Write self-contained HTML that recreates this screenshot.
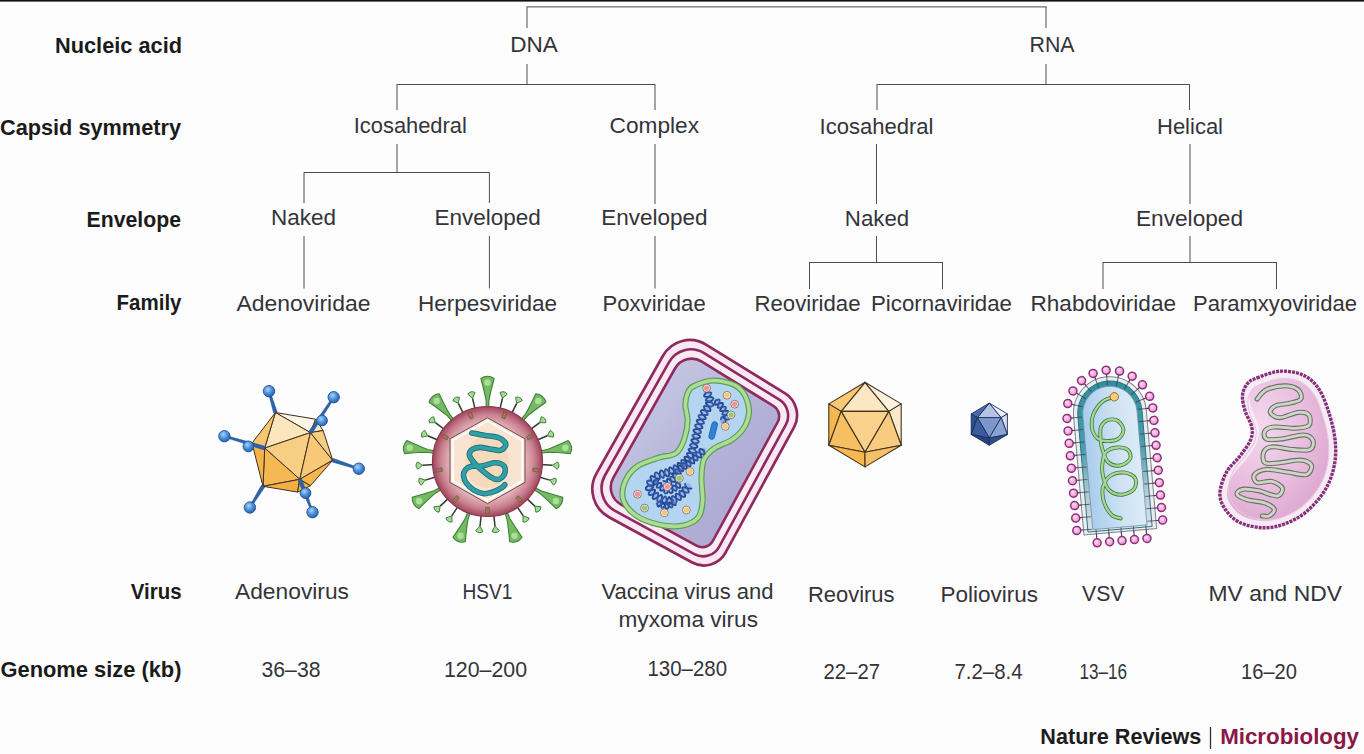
<!DOCTYPE html>
<html><head><meta charset="utf-8"><title>Virus classification</title>
<style>
html,body{margin:0;padding:0;background:#fdfdfe;}
body{width:1364px;height:754px;overflow:hidden;font-family:"Liberation Sans",sans-serif;}
svg{display:block}
text{font-family:"Liberation Sans",sans-serif;}
</style></head><body>
<svg width="1364" height="754" viewBox="0 0 1364 754">
<defs>
<radialGradient id="ball" cx="40%" cy="35%" r="65%"><stop offset="0" stop-color="#a8d4f8"/><stop offset="0.55" stop-color="#4a8fdc"/><stop offset="1" stop-color="#2a62b0"/></radialGradient>
<radialGradient id="hsv" cx="50%" cy="50%" r="50%"><stop offset="0" stop-color="#efd2cf"/><stop offset="0.68" stop-color="#e5b6bb"/><stop offset="0.86" stop-color="#c98090"/><stop offset="1" stop-color="#a0455c"/></radialGradient>
<linearGradient id="vacin" x1="0" y1="0" x2="1" y2="1"><stop offset="0" stop-color="#cdd0e8"/><stop offset="0.5" stop-color="#b6b4d9"/><stop offset="1" stop-color="#a8a3ce"/></linearGradient>
<linearGradient id="vsvin" x1="0" y1="0" x2="1" y2="0"><stop offset="0" stop-color="#a9cdec"/><stop offset="0.6" stop-color="#cfe3f4"/><stop offset="1" stop-color="#dcebf7"/></linearGradient>
<radialGradient id="mv" cx="35%" cy="35%" r="75%"><stop offset="0" stop-color="#f3d8ed"/><stop offset="0.55" stop-color="#e8bcde"/><stop offset="1" stop-color="#d99fcc"/></radialGradient>
<radialGradient id="pinkball" cx="40%" cy="35%" r="65%"><stop offset="0" stop-color="#fbdcf1"/><stop offset="1" stop-color="#ec92ce"/></radialGradient>
<linearGradient id="vsvteal" x1="0" y1="0" x2="0" y2="1"><stop offset="0" stop-color="#2f8f9d"/><stop offset="0.45" stop-color="#4a9fab"/><stop offset="0.75" stop-color="#b4c8d0"/><stop offset="1" stop-color="#dde4ea"/></linearGradient>
</defs>
<rect x="0" y="0" width="1364" height="754" fill="#fdfdfe"/>
<rect x="0" y="0" width="1364" height="1.6" fill="#141012"/>
<line x1="526.5" y1="6.9" x2="1046.5" y2="6.9" stroke="#4c4c52" stroke-width="1.0" />
<line x1="527.0" y1="6.9" x2="527.0" y2="28.0" stroke="#4c4c52" stroke-width="1.0" />
<line x1="1046.0" y1="6.9" x2="1046.0" y2="28.0" stroke="#4c4c52" stroke-width="1.0" />
<line x1="527.0" y1="64.0" x2="527.0" y2="84.0" stroke="#4c4c52" stroke-width="1.0" />
<line x1="397.0" y1="84.5" x2="655.0" y2="84.5" stroke="#4c4c52" stroke-width="1.0" />
<line x1="397.0" y1="84.0" x2="397.0" y2="110.0" stroke="#4c4c52" stroke-width="1.0" />
<line x1="655.0" y1="84.0" x2="655.0" y2="110.0" stroke="#4c4c52" stroke-width="1.0" />
<line x1="397.0" y1="144.0" x2="397.0" y2="172.3" stroke="#4c4c52" stroke-width="1.0" />
<line x1="304.0" y1="172.5" x2="489.4" y2="172.5" stroke="#4c4c52" stroke-width="1.0" />
<line x1="304.0" y1="172.3" x2="304.0" y2="203.0" stroke="#4c4c52" stroke-width="1.0" />
<line x1="489.4" y1="172.3" x2="489.4" y2="203.0" stroke="#4c4c52" stroke-width="1.0" />
<line x1="655.0" y1="144.0" x2="655.0" y2="204.0" stroke="#4c4c52" stroke-width="1.0" />
<line x1="304.0" y1="236.0" x2="304.0" y2="288.5" stroke="#4c4c52" stroke-width="1.0" />
<line x1="489.4" y1="236.0" x2="489.4" y2="288.5" stroke="#4c4c52" stroke-width="1.0" />
<line x1="655.0" y1="236.0" x2="655.0" y2="288.5" stroke="#4c4c52" stroke-width="1.0" />
<line x1="1046.0" y1="64.0" x2="1046.0" y2="84.0" stroke="#4c4c52" stroke-width="1.0" />
<line x1="877.0" y1="84.5" x2="1189.5" y2="84.5" stroke="#4c4c52" stroke-width="1.0" />
<line x1="877.0" y1="84.0" x2="877.0" y2="110.0" stroke="#4c4c52" stroke-width="1.0" />
<line x1="1189.5" y1="84.0" x2="1189.5" y2="110.0" stroke="#4c4c52" stroke-width="1.0" />
<line x1="876.5" y1="144.0" x2="876.5" y2="204.0" stroke="#4c4c52" stroke-width="1.0" />
<line x1="1190.0" y1="144.0" x2="1190.0" y2="204.0" stroke="#4c4c52" stroke-width="1.0" />
<line x1="876.5" y1="236.0" x2="876.5" y2="262.0" stroke="#4c4c52" stroke-width="1.0" />
<line x1="809.5" y1="262.5" x2="942.5" y2="262.5" stroke="#4c4c52" stroke-width="1.0" />
<line x1="809.5" y1="262.0" x2="809.5" y2="289.0" stroke="#4c4c52" stroke-width="1.0" />
<line x1="942.5" y1="262.0" x2="942.5" y2="289.0" stroke="#4c4c52" stroke-width="1.0" />
<line x1="1190.0" y1="236.0" x2="1190.0" y2="262.0" stroke="#4c4c52" stroke-width="1.0" />
<line x1="1103.0" y1="262.5" x2="1276.5" y2="262.5" stroke="#4c4c52" stroke-width="1.0" />
<line x1="1103.0" y1="262.0" x2="1103.0" y2="289.0" stroke="#4c4c52" stroke-width="1.0" />
<line x1="1276.5" y1="262.0" x2="1276.5" y2="289.0" stroke="#4c4c52" stroke-width="1.0" />
<text x="55.0" y="52.7" font-size="22.3" font-weight="bold" fill="#1b1b1b" textLength="127.0" lengthAdjust="spacingAndGlyphs">Nucleic acid</text>
<text x="0.0" y="134.7" font-size="22.3" font-weight="bold" fill="#1b1b1b" textLength="181.0" lengthAdjust="spacingAndGlyphs">Capsid symmetry</text>
<text x="86.5" y="226.8" font-size="22.3" font-weight="bold" fill="#1b1b1b" textLength="94.5" lengthAdjust="spacingAndGlyphs">Envelope</text>
<text x="116.5" y="310.4" font-size="22.3" font-weight="bold" fill="#1b1b1b" textLength="65.0" lengthAdjust="spacingAndGlyphs">Family</text>
<text x="130.8" y="599.4" font-size="22.3" font-weight="bold" fill="#1b1b1b" textLength="50.8" lengthAdjust="spacingAndGlyphs">Virus</text>
<text x="0.5" y="677.0" font-size="22.3" font-weight="bold" fill="#1b1b1b" textLength="181.0" lengthAdjust="spacingAndGlyphs">Genome size (kb)</text>
<text x="510.3" y="52.1" font-size="21.8" font-weight="normal" fill="#343438" textLength="47.5" lengthAdjust="spacingAndGlyphs">DNA</text>
<text x="1029.5" y="51.5" font-size="21.8" font-weight="normal" fill="#343438" textLength="45.0" lengthAdjust="spacingAndGlyphs">RNA</text>
<text x="353.8" y="133.2" font-size="21.8" font-weight="normal" fill="#343438" textLength="113.0" lengthAdjust="spacingAndGlyphs">Icosahedral</text>
<text x="609.5" y="133.2" font-size="21.8" font-weight="normal" fill="#343438" textLength="89.5" lengthAdjust="spacingAndGlyphs">Complex</text>
<text x="819.5" y="134.0" font-size="21.8" font-weight="normal" fill="#343438" textLength="114.0" lengthAdjust="spacingAndGlyphs">Icosahedral</text>
<text x="1157.0" y="134.0" font-size="21.8" font-weight="normal" fill="#343438" textLength="66.0" lengthAdjust="spacingAndGlyphs">Helical</text>
<text x="271.0" y="224.5" font-size="21.8" font-weight="normal" fill="#343438" textLength="65.0" lengthAdjust="spacingAndGlyphs">Naked</text>
<text x="434.4" y="224.5" font-size="21.8" font-weight="normal" fill="#343438" textLength="106.3" lengthAdjust="spacingAndGlyphs">Enveloped</text>
<text x="601.2" y="224.5" font-size="21.8" font-weight="normal" fill="#343438" textLength="106.3" lengthAdjust="spacingAndGlyphs">Enveloped</text>
<text x="844.8" y="226.2" font-size="21.8" font-weight="normal" fill="#343438" textLength="64.4" lengthAdjust="spacingAndGlyphs">Naked</text>
<text x="1136.0" y="226.2" font-size="21.8" font-weight="normal" fill="#343438" textLength="107.0" lengthAdjust="spacingAndGlyphs">Enveloped</text>
<text x="236.5" y="310.5" font-size="21.8" font-weight="normal" fill="#343438" textLength="134.0" lengthAdjust="spacingAndGlyphs">Adenoviridae</text>
<text x="418.0" y="310.5" font-size="21.8" font-weight="normal" fill="#343438" textLength="139.0" lengthAdjust="spacingAndGlyphs">Herpesviridae</text>
<text x="602.5" y="310.5" font-size="21.8" font-weight="normal" fill="#343438" textLength="103.2" lengthAdjust="spacingAndGlyphs">Poxviridae</text>
<text x="754.5" y="310.5" font-size="21.8" font-weight="normal" fill="#343438" textLength="106.0" lengthAdjust="spacingAndGlyphs">Reoviridae</text>
<text x="871.0" y="310.5" font-size="21.8" font-weight="normal" fill="#343438" textLength="141.0" lengthAdjust="spacingAndGlyphs">Picornaviridae</text>
<text x="1030.5" y="310.5" font-size="21.8" font-weight="normal" fill="#343438" textLength="145.5" lengthAdjust="spacingAndGlyphs">Rhabdoviridae</text>
<text x="1193.0" y="310.5" font-size="21.8" font-weight="normal" fill="#343438" textLength="164.0" lengthAdjust="spacingAndGlyphs">Paramxyoviridae</text>
<text x="235.0" y="599.0" font-size="21.8" font-weight="normal" fill="#343438" textLength="114.0" lengthAdjust="spacingAndGlyphs">Adenovirus</text>
<text x="462.5" y="599.0" font-size="21.8" font-weight="normal" fill="#343438" textLength="50.0" lengthAdjust="spacingAndGlyphs">HSV1</text>
<text x="601.5" y="598.5" font-size="21.8" font-weight="normal" fill="#343438" textLength="172.0" lengthAdjust="spacingAndGlyphs">Vaccina virus and</text>
<text x="618.5" y="626.5" font-size="21.8" font-weight="normal" fill="#343438" textLength="139.5" lengthAdjust="spacingAndGlyphs">myxoma virus</text>
<text x="808.0" y="601.5" font-size="21.8" font-weight="normal" fill="#343438" textLength="86.5" lengthAdjust="spacingAndGlyphs">Reovirus</text>
<text x="940.5" y="601.5" font-size="21.8" font-weight="normal" fill="#343438" textLength="97.5" lengthAdjust="spacingAndGlyphs">Poliovirus</text>
<text x="1082.0" y="601.0" font-size="21.8" font-weight="normal" fill="#343438" textLength="42.5" lengthAdjust="spacingAndGlyphs">VSV</text>
<text x="1208.5" y="601.0" font-size="21.8" font-weight="normal" fill="#343438" textLength="133.5" lengthAdjust="spacingAndGlyphs">MV and NDV</text>
<text x="261.5" y="676.5" font-size="21.8" font-weight="normal" fill="#343438" textLength="59.0" lengthAdjust="spacingAndGlyphs">36–38</text>
<text x="444.0" y="676.5" font-size="21.8" font-weight="normal" fill="#343438" textLength="83.0" lengthAdjust="spacingAndGlyphs">120–200</text>
<text x="647.5" y="676.0" font-size="21.8" font-weight="normal" fill="#343438" textLength="79.5" lengthAdjust="spacingAndGlyphs">130–280</text>
<text x="823.5" y="679.0" font-size="21.8" font-weight="normal" fill="#343438" textLength="56.5" lengthAdjust="spacingAndGlyphs">22–27</text>
<text x="954.5" y="679.0" font-size="21.8" font-weight="normal" fill="#343438" textLength="68.0" lengthAdjust="spacingAndGlyphs">7.2–8.4</text>
<text x="1079.5" y="679.0" font-size="21.8" font-weight="normal" fill="#343438" textLength="47.5" lengthAdjust="spacingAndGlyphs">13–16</text>
<text x="1241.0" y="679.0" font-size="21.8" font-weight="normal" fill="#343438" textLength="56.0" lengthAdjust="spacingAndGlyphs">16–20</text>
<text x="1040.3" y="743.6" font-size="21.8" font-weight="bold" fill="#1c1c1c" textLength="161.1" lengthAdjust="spacingAndGlyphs">Nature Reviews</text>
<line x1="1210.5" y1="727.0" x2="1210.5" y2="749.0" stroke="#333" stroke-width="1.3" />
<text x="1220.2" y="743.6" font-size="21.8" font-weight="bold" fill="#8c1746" textLength="138.8" lengthAdjust="spacingAndGlyphs">Microbiology</text>
<g id="adeno">
<polygon points="275.4,412.5 315.7,419.2 310.4,432.6" fill="#fdf5e6" stroke="#3c2f1c" stroke-width="1.0" stroke-linejoin="round"/>
<polygon points="315.7,419.2 323.1,430.5 310.4,432.6" fill="#fbe8c6" stroke="#3c2f1c" stroke-width="1.0" stroke-linejoin="round"/>
<polygon points="275.4,412.5 310.4,432.6 264.7,448.1" fill="#fbe5bd" stroke="#3c2f1c" stroke-width="1.0" stroke-linejoin="round"/>
<polygon points="275.4,412.5 264.7,448.1 252.0,443.2" fill="#f6c670" stroke="#3c2f1c" stroke-width="1.0" stroke-linejoin="round"/>
<polygon points="310.4,432.6 264.7,448.1 299.8,479.3" fill="#f8ce84" stroke="#3c2f1c" stroke-width="1.0" stroke-linejoin="round"/>
<polygon points="310.4,432.6 299.8,479.3 332.7,460.2" fill="#f7c878" stroke="#3c2f1c" stroke-width="1.0" stroke-linejoin="round"/>
<polygon points="323.1,430.5 332.7,460.2 310.4,432.6" fill="#f7cd83" stroke="#3c2f1c" stroke-width="1.0" stroke-linejoin="round"/>
<polygon points="264.7,448.1 299.8,479.3 263.0,486.3" fill="#f5b853" stroke="#3c2f1c" stroke-width="1.0" stroke-linejoin="round"/>
<polygon points="252.0,443.2 264.7,448.1 263.0,486.3" fill="#f4b24a" stroke="#3c2f1c" stroke-width="1.0" stroke-linejoin="round"/>
<polygon points="299.8,479.3 263.0,486.3 297.6,492.1" fill="#f3ae45" stroke="#3c2f1c" stroke-width="1.0" stroke-linejoin="round"/>
<polygon points="299.8,479.3 297.6,492.1 310.4,485.7" fill="#f4b24a" stroke="#3c2f1c" stroke-width="1.0" stroke-linejoin="round"/>
<polygon points="299.8,479.3 310.4,485.7 332.7,460.2" fill="#f5b650" stroke="#3c2f1c" stroke-width="1.0" stroke-linejoin="round"/>
<polygon points="277.2,412.0 269.9,390.9 268.1,391.5 273.6,413.0" fill="#2c63ab" stroke="#234f8c" stroke-width="0.5" />
<circle cx="269.0" cy="391.2" r="5.7" fill="url(#ball)" stroke="#24518f" stroke-width="0.9"/>
<polygon points="312.0,433.6 334.5,397.7 332.9,396.7 308.8,431.6" fill="#2c63ab" stroke="#234f8c" stroke-width="0.5" />
<circle cx="322.0" cy="420.5" r="5.4" fill="url(#ball)" stroke="#24518f" stroke-width="0.9"/>
<circle cx="333.7" cy="397.2" r="5.7" fill="url(#ball)" stroke="#24518f" stroke-width="0.9"/>
<polygon points="265.2,446.3 224.7,435.3 224.1,437.1 264.2,449.9" fill="#2c63ab" stroke="#234f8c" stroke-width="0.5" />
<circle cx="248.4" cy="446.4" r="5.4" fill="url(#ball)" stroke="#24518f" stroke-width="0.9"/>
<circle cx="224.4" cy="436.2" r="5.7" fill="url(#ball)" stroke="#24518f" stroke-width="0.9"/>
<polygon points="332.1,462.0 358.5,469.6 359.1,467.8 333.3,458.4" fill="#2c63ab" stroke="#234f8c" stroke-width="0.5" />
<circle cx="358.8" cy="468.7" r="5.7" fill="url(#ball)" stroke="#24518f" stroke-width="0.9"/>
<polygon points="261.4,485.3 249.1,507.0 250.7,508.0 264.6,487.3" fill="#2c63ab" stroke="#234f8c" stroke-width="0.5" />
<circle cx="249.9" cy="507.5" r="5.7" fill="url(#ball)" stroke="#24518f" stroke-width="0.9"/>
<polygon points="298.0,480.0 311.7,512.5 313.3,511.9 301.6,478.6" fill="#2c63ab" stroke="#234f8c" stroke-width="0.5" />
<circle cx="305.5" cy="493.1" r="5.4" fill="url(#ball)" stroke="#24518f" stroke-width="0.9"/>
<circle cx="312.5" cy="512.2" r="5.7" fill="url(#ball)" stroke="#24518f" stroke-width="0.9"/>
</g>
<g id="hsv1">
<path d="M486.3 408.5 L486.1 400.5 Q484.9 393.5 480.9 378.5 Q487.5 374.0 494.1 378.5 Q490.1 393.5 488.9 400.5 L488.7 408.5 Z" fill="#74bb62" stroke="#3f7f3c" stroke-width="1.1" stroke-linejoin="round"/>
<circle cx="487.5" cy="382.5" r="3.2" fill="#b9e2a4" opacity="0.85"/>
<line x1="499.7" y1="409.9" x2="502.5" y2="398.3" stroke="#2f3f2c" stroke-width="1.5" />
<path d="M502.5 398.3 L500.0 392.5 Q504.4 390.3 507.2 394.2 Z" fill="#a6d994" stroke="#3f7f3c" stroke-width="1" stroke-linejoin="round"/>
<line x1="511.3" y1="414.1" x2="516.7" y2="403.4" stroke="#2f3f2c" stroke-width="1.5" />
<path d="M516.7 403.4 L515.6 397.3 Q520.4 396.1 522.2 400.6 Z" fill="#a6d994" stroke="#3f7f3c" stroke-width="1" stroke-linejoin="round"/>
<path d="M520.6 420.1 L525.6 413.9 Q529.2 407.7 535.8 393.7 Q543.7 394.5 545.9 402.2 Q533.2 411.1 527.8 415.7 L522.5 421.7 Z" fill="#74bb62" stroke="#3f7f3c" stroke-width="1.1" stroke-linejoin="round"/>
<circle cx="538.3" cy="401.0" r="3.2" fill="#b9e2a4" opacity="0.85"/>
<line x1="530.0" y1="429.9" x2="539.6" y2="422.7" stroke="#2f3f2c" stroke-width="1.5" />
<path d="M539.6 422.7 L541.4 416.7 Q546.2 417.8 545.9 422.7 Z" fill="#a6d994" stroke="#3f7f3c" stroke-width="1" stroke-linejoin="round"/>
<line x1="536.2" y1="440.5" x2="547.2" y2="435.8" stroke="#2f3f2c" stroke-width="1.5" />
<path d="M547.2 435.8 L550.3 430.4 Q554.7 432.5 553.2 437.2 Z" fill="#a6d994" stroke="#3f7f3c" stroke-width="1" stroke-linejoin="round"/>
<path d="M539.5 451.1 L547.3 449.5 Q554.0 447.1 568.1 440.6 Q573.7 446.3 570.4 453.6 Q554.9 452.3 547.8 452.3 L539.9 453.5 Z" fill="#74bb62" stroke="#3f7f3c" stroke-width="1.1" stroke-linejoin="round"/>
<circle cx="565.3" cy="447.8" r="3.2" fill="#b9e2a4" opacity="0.85"/>
<line x1="540.4" y1="464.6" x2="552.4" y2="465.3" stroke="#2f3f2c" stroke-width="1.5" />
<path d="M552.4 465.3 L557.6 461.9 Q560.6 465.8 557.2 469.3 Z" fill="#a6d994" stroke="#3f7f3c" stroke-width="1" stroke-linejoin="round"/>
<line x1="538.3" y1="476.7" x2="549.8" y2="480.1" stroke="#2f3f2c" stroke-width="1.5" />
<path d="M549.8 480.1 L555.6 478.0 Q557.6 482.5 553.5 485.1 Z" fill="#a6d994" stroke="#3f7f3c" stroke-width="1" stroke-linejoin="round"/>
<path d="M534.0 487.0 L541.0 490.8 Q547.7 493.2 562.7 497.3 Q563.3 505.2 556.1 508.7 Q545.1 497.8 539.6 493.2 L532.8 489.0 Z" fill="#74bb62" stroke="#3f7f3c" stroke-width="1.1" stroke-linejoin="round"/>
<circle cx="555.9" cy="501.0" r="3.2" fill="#b9e2a4" opacity="0.85"/>
<line x1="526.1" y1="497.9" x2="534.8" y2="506.1" stroke="#2f3f2c" stroke-width="1.5" />
<path d="M534.8 506.1 L541.0 506.8 Q540.7 511.7 535.9 512.2 Z" fill="#a6d994" stroke="#3f7f3c" stroke-width="1" stroke-linejoin="round"/>
<line x1="516.6" y1="505.8" x2="523.2" y2="515.8" stroke="#2f3f2c" stroke-width="1.5" />
<path d="M523.2 515.8 L529.1 518.0 Q527.7 522.7 522.9 522.0 Z" fill="#a6d994" stroke="#3f7f3c" stroke-width="1" stroke-linejoin="round"/>
<path d="M506.8 510.9 L509.7 518.3 Q513.2 524.5 522.1 537.2 Q517.4 543.7 509.7 541.8 Q508.3 526.3 507.0 519.3 L504.5 511.7 Z" fill="#74bb62" stroke="#3f7f3c" stroke-width="1.1" stroke-linejoin="round"/>
<circle cx="514.5" cy="535.7" r="3.2" fill="#b9e2a4" opacity="0.85"/>
<line x1="493.7" y1="514.1" x2="495.0" y2="526.1" stroke="#2f3f2c" stroke-width="1.5" />
<path d="M495.0 526.1 L499.3 530.6 Q496.0 534.2 492.0 531.5 Z" fill="#a6d994" stroke="#3f7f3c" stroke-width="1" stroke-linejoin="round"/>
<line x1="481.3" y1="514.1" x2="480.0" y2="526.1" stroke="#2f3f2c" stroke-width="1.5" />
<path d="M480.0 526.1 L483.0 531.5 Q479.0 534.2 475.7 530.6 Z" fill="#a6d994" stroke="#3f7f3c" stroke-width="1" stroke-linejoin="round"/>
<path d="M470.5 511.7 L468.0 519.3 Q466.7 526.3 465.3 541.8 Q457.6 543.7 452.9 537.2 Q461.8 524.5 465.3 518.3 L468.2 510.9 Z" fill="#74bb62" stroke="#3f7f3c" stroke-width="1.1" stroke-linejoin="round"/>
<circle cx="460.5" cy="535.7" r="3.2" fill="#b9e2a4" opacity="0.85"/>
<line x1="458.4" y1="505.8" x2="451.8" y2="515.8" stroke="#2f3f2c" stroke-width="1.5" />
<path d="M451.8 515.8 L452.1 522.0 Q447.3 522.7 445.9 518.0 Z" fill="#a6d994" stroke="#3f7f3c" stroke-width="1" stroke-linejoin="round"/>
<line x1="448.9" y1="497.9" x2="440.2" y2="506.1" stroke="#2f3f2c" stroke-width="1.5" />
<path d="M440.2 506.1 L439.1 512.2 Q434.3 511.7 434.0 506.8 Z" fill="#a6d994" stroke="#3f7f3c" stroke-width="1" stroke-linejoin="round"/>
<path d="M442.2 489.0 L435.4 493.2 Q429.9 497.8 418.9 508.7 Q411.7 505.2 412.3 497.3 Q427.3 493.2 434.0 490.8 L441.0 487.0 Z" fill="#74bb62" stroke="#3f7f3c" stroke-width="1.1" stroke-linejoin="round"/>
<circle cx="419.1" cy="501.0" r="3.2" fill="#b9e2a4" opacity="0.85"/>
<line x1="436.7" y1="476.7" x2="425.2" y2="480.1" stroke="#2f3f2c" stroke-width="1.5" />
<path d="M425.2 480.1 L421.5 485.1 Q417.4 482.5 419.4 478.0 Z" fill="#a6d994" stroke="#3f7f3c" stroke-width="1" stroke-linejoin="round"/>
<line x1="434.6" y1="464.6" x2="422.6" y2="465.3" stroke="#2f3f2c" stroke-width="1.5" />
<path d="M422.6 465.3 L417.8 469.3 Q414.4 465.8 417.4 461.9 Z" fill="#a6d994" stroke="#3f7f3c" stroke-width="1" stroke-linejoin="round"/>
<path d="M435.1 453.5 L427.2 452.3 Q420.1 452.3 404.6 453.6 Q401.3 446.3 406.9 440.6 Q421.0 447.1 427.7 449.5 L435.5 451.1 Z" fill="#74bb62" stroke="#3f7f3c" stroke-width="1.1" stroke-linejoin="round"/>
<circle cx="409.7" cy="447.8" r="3.2" fill="#b9e2a4" opacity="0.85"/>
<line x1="438.8" y1="440.5" x2="427.8" y2="435.8" stroke="#2f3f2c" stroke-width="1.5" />
<path d="M427.8 435.8 L421.8 437.2 Q420.3 432.5 424.7 430.4 Z" fill="#a6d994" stroke="#3f7f3c" stroke-width="1" stroke-linejoin="round"/>
<line x1="445.0" y1="429.9" x2="435.4" y2="422.7" stroke="#2f3f2c" stroke-width="1.5" />
<path d="M435.4 422.7 L429.1 422.7 Q428.8 417.8 433.6 416.7 Z" fill="#a6d994" stroke="#3f7f3c" stroke-width="1" stroke-linejoin="round"/>
<path d="M452.5 421.7 L447.2 415.7 Q441.8 411.1 429.1 402.2 Q431.3 394.5 439.2 393.7 Q445.8 407.7 449.4 413.9 L454.4 420.1 Z" fill="#74bb62" stroke="#3f7f3c" stroke-width="1.1" stroke-linejoin="round"/>
<circle cx="436.7" cy="401.0" r="3.2" fill="#b9e2a4" opacity="0.85"/>
<line x1="463.7" y1="414.1" x2="458.3" y2="403.4" stroke="#2f3f2c" stroke-width="1.5" />
<path d="M458.3 403.4 L452.8 400.6 Q454.6 396.1 459.4 397.3 Z" fill="#a6d994" stroke="#3f7f3c" stroke-width="1" stroke-linejoin="round"/>
<line x1="475.3" y1="409.9" x2="472.5" y2="398.3" stroke="#2f3f2c" stroke-width="1.5" />
<path d="M472.5 398.3 L467.8 394.2 Q470.6 390.3 475.0 392.5 Z" fill="#a6d994" stroke="#3f7f3c" stroke-width="1" stroke-linejoin="round"/>
<circle cx="487.5" cy="461.5" r="55.0" fill="url(#hsv)" stroke="#8c3550" stroke-width="1.2"/>
<rect x="502.6" y="412.5" width="3.4" height="6" fill="#9c7a58" stroke="#5e4630" stroke-width="0.5" transform="rotate(20.0 504.3 415.5)"/>
<rect x="528.2" y="434.0" width="3.4" height="6" fill="#9c7a58" stroke="#5e4630" stroke-width="0.5" transform="rotate(60.0 529.9 437.0)"/>
<rect x="534.1" y="467.0" width="3.4" height="6" fill="#9c7a58" stroke="#5e4630" stroke-width="0.5" transform="rotate(100.0 535.8 470.0)"/>
<rect x="517.3" y="496.0" width="3.4" height="6" fill="#9c7a58" stroke="#5e4630" stroke-width="0.5" transform="rotate(140.0 519.0 499.0)"/>
<rect x="485.8" y="507.5" width="3.4" height="6" fill="#9c7a58" stroke="#5e4630" stroke-width="0.5" transform="rotate(180.0 487.5 510.5)"/>
<rect x="454.3" y="496.0" width="3.4" height="6" fill="#9c7a58" stroke="#5e4630" stroke-width="0.5" transform="rotate(220.0 456.0 499.0)"/>
<rect x="437.5" y="467.0" width="3.4" height="6" fill="#9c7a58" stroke="#5e4630" stroke-width="0.5" transform="rotate(260.0 439.2 470.0)"/>
<rect x="443.4" y="434.0" width="3.4" height="6" fill="#9c7a58" stroke="#5e4630" stroke-width="0.5" transform="rotate(300.0 445.1 437.0)"/>
<rect x="469.0" y="412.5" width="3.4" height="6" fill="#9c7a58" stroke="#5e4630" stroke-width="0.5" transform="rotate(340.0 470.7 415.5)"/>
<polygon points="487.5,417.8 525.0,438.8 525.0,482.4 487.5,503.6 450.0,482.4 450.0,438.8" fill="#f9e4d2" stroke="#6a4a50" stroke-width="1.0" />
<polygon points="487.5,421.0 522.2,440.4 522.2,480.8 487.5,500.4 452.8,480.8 452.8,440.4" fill="none" stroke="#ffffff" stroke-width="2.0" opacity="0.9"/>
<ellipse cx="487" cy="462" rx="22" ry="26" fill="#f6cfa8" opacity="0.55"/>
<path d="M471.9 433.0 C474.1 433.4 480.6 434.7 484.9 435.4 C489.2 436.1 494.5 436.3 497.8 437.4 C501.1 438.5 503.6 440.4 504.8 441.9 C506.0 443.4 506.0 445.0 505.2 446.4 C504.4 447.8 502.4 450.0 499.8 450.4 C497.2 450.8 493.1 449.4 489.8 448.9 C486.5 448.4 482.8 447.3 479.9 447.4 C477.0 447.5 474.1 448.3 472.4 449.4 C470.6 450.5 469.6 452.2 469.4 453.9 C469.2 455.5 470.1 457.3 471.4 459.3 C472.6 461.3 474.8 463.7 476.9 465.8 C479.0 467.9 481.6 469.9 483.9 471.8 C486.2 473.7 488.6 475.9 490.8 477.2 C493.0 478.5 494.9 479.5 496.8 479.5 C498.7 479.5 500.9 478.5 502.3 477.2 C503.7 475.9 504.9 473.6 505.2 471.8 C505.5 470.0 505.2 467.7 504.3 466.3 C503.4 464.9 501.6 463.9 499.8 463.3 C498.1 462.7 496.0 462.6 493.8 462.8 C491.6 463.1 489.3 464.2 486.8 464.8 C484.3 465.4 481.5 466.1 478.9 466.3 C476.3 466.6 473.6 465.7 471.4 466.3 C469.1 466.9 466.7 468.2 465.4 469.8 C464.1 471.4 463.3 473.5 463.5 475.7 C463.7 477.9 464.7 480.8 466.4 483.2 C468.1 485.6 471.0 488.4 473.9 490.2 C476.8 491.9 480.6 493.4 483.9 493.7 C487.2 493.9 490.8 492.7 493.8 491.7 C496.8 490.7 500.0 488.9 501.8 487.7 C503.6 486.5 504.3 485.2 504.8 484.7" fill="none" stroke="#1f6f80" stroke-width="5.6" stroke-linecap="round" stroke-linejoin="round"/>
<path d="M471.9 433.0 C474.1 433.4 480.6 434.7 484.9 435.4 C489.2 436.1 494.5 436.3 497.8 437.4 C501.1 438.5 503.6 440.4 504.8 441.9 C506.0 443.4 506.0 445.0 505.2 446.4 C504.4 447.8 502.4 450.0 499.8 450.4 C497.2 450.8 493.1 449.4 489.8 448.9 C486.5 448.4 482.8 447.3 479.9 447.4 C477.0 447.5 474.1 448.3 472.4 449.4 C470.6 450.5 469.6 452.2 469.4 453.9 C469.2 455.5 470.1 457.3 471.4 459.3 C472.6 461.3 474.8 463.7 476.9 465.8 C479.0 467.9 481.6 469.9 483.9 471.8 C486.2 473.7 488.6 475.9 490.8 477.2 C493.0 478.5 494.9 479.5 496.8 479.5 C498.7 479.5 500.9 478.5 502.3 477.2 C503.7 475.9 504.9 473.6 505.2 471.8 C505.5 470.0 505.2 467.7 504.3 466.3 C503.4 464.9 501.6 463.9 499.8 463.3 C498.1 462.7 496.0 462.6 493.8 462.8 C491.6 463.1 489.3 464.2 486.8 464.8 C484.3 465.4 481.5 466.1 478.9 466.3 C476.3 466.6 473.6 465.7 471.4 466.3 C469.1 466.9 466.7 468.2 465.4 469.8 C464.1 471.4 463.3 473.5 463.5 475.7 C463.7 477.9 464.7 480.8 466.4 483.2 C468.1 485.6 471.0 488.4 473.9 490.2 C476.8 491.9 480.6 493.4 483.9 493.7 C487.2 493.9 490.8 492.7 493.8 491.7 C496.8 490.7 500.0 488.9 501.8 487.7 C503.6 486.5 504.3 485.2 504.8 484.7" fill="none" stroke="#2fa0a4" stroke-width="3.8" stroke-linecap="round" stroke-linejoin="round"/>
</g>
<g id="vaccinia">
<path d="M662.8 356.0 C671.6 340.3 691.1 335.3 706.4 344.8 L785.1 393.4 C796.4 400.4 800.4 415.5 794.1 427.2 L725.5 552.7 C719.0 564.6 704.1 569.0 692.2 562.5 L609.1 517.2 C593.3 508.6 587.7 488.9 596.5 473.3 Z" fill="#f9e8f3" stroke="#8f2a5e" stroke-width="2.7"/>
<path d="M668.9 362.3 C676.0 349.6 691.8 345.6 704.1 353.2 L779.3 399.7 C787.6 404.8 790.6 416.0 785.9 424.6 L719.1 546.8 C714.3 555.7 703.2 558.9 694.4 554.1 L615.1 510.9 C602.4 504.0 597.8 488.1 604.9 475.5 Z" fill="#faeaf4" stroke="#8f2a5e" stroke-width="2.6"/>
<path d="M675.0 368.5 C680.4 358.9 692.4 355.8 701.8 361.6 L773.5 406.0 C778.8 409.3 780.7 416.5 777.7 422.0 L712.8 541.0 C709.6 546.8 702.3 548.9 696.5 545.7 L621.1 504.6 C611.4 499.3 607.9 487.3 613.4 477.7 Z" fill="url(#vacin)" stroke="#8f2a5e" stroke-width="2.6"/>
<path d="M693.4 386.3 C697.8 384.2 706.7 380.3 714.1 380.5 C721.6 380.7 732.6 383.0 738.3 387.4 C744.1 391.9 747.6 400.7 748.7 407.0 C749.9 413.4 747.9 420.1 745.3 425.5 C742.6 430.8 737.8 435.5 732.6 439.3 C727.4 443.1 718.9 445.1 714.1 448.5 C709.3 452.0 705.9 455.0 703.8 460.0 C701.7 465.0 701.7 471.6 701.5 478.5 C701.3 485.4 703.2 495.0 702.6 501.5 C702.0 508.0 701.5 513.6 698.0 517.6 C694.6 521.7 688.4 524.6 681.9 525.7 C675.4 526.9 666.5 526.3 658.8 524.6 C651.2 522.8 641.7 519.6 635.8 515.3 C629.8 511.1 624.8 505.0 623.1 499.2 C621.4 493.4 622.9 486.3 625.4 480.8 C627.9 475.2 632.5 469.6 638.1 465.8 C643.7 462.0 652.5 459.8 658.8 457.7 C665.2 455.6 671.9 456.2 676.1 453.1 C680.3 450.0 682.3 444.7 684.2 439.3 C686.1 433.9 687.5 426.6 687.6 420.9 C687.8 415.1 685.3 409.3 685.3 404.7 C685.3 400.1 686.3 396.3 687.6 393.2 C689.0 390.1 689.0 388.4 693.4 386.3Z" fill="#b4d5f1" stroke="#58a054" stroke-width="6.0"/>
<path d="M693.4 386.3 C697.8 384.2 706.7 380.3 714.1 380.5 C721.6 380.7 732.6 383.0 738.3 387.4 C744.1 391.9 747.6 400.7 748.7 407.0 C749.9 413.4 747.9 420.1 745.3 425.5 C742.6 430.8 737.8 435.5 732.6 439.3 C727.4 443.1 718.9 445.1 714.1 448.5 C709.3 452.0 705.9 455.0 703.8 460.0 C701.7 465.0 701.7 471.6 701.5 478.5 C701.3 485.4 703.2 495.0 702.6 501.5 C702.0 508.0 701.5 513.6 698.0 517.6 C694.6 521.7 688.4 524.6 681.9 525.7 C675.4 526.9 666.5 526.3 658.8 524.6 C651.2 522.8 641.7 519.6 635.8 515.3 C629.8 511.1 624.8 505.0 623.1 499.2 C621.4 493.4 622.9 486.3 625.4 480.8 C627.9 475.2 632.5 469.6 638.1 465.8 C643.7 462.0 652.5 459.8 658.8 457.7 C665.2 455.6 671.9 456.2 676.1 453.1 C680.3 450.0 682.3 444.7 684.2 439.3 C686.1 433.9 687.5 426.6 687.6 420.9 C687.8 415.1 685.3 409.3 685.3 404.7 C685.3 400.1 686.3 396.3 687.6 393.2 C689.0 390.1 689.0 388.4 693.4 386.3Z" fill="none" stroke="#aedc96" stroke-width="3.6"/>
<path d="M706.7 392.2 L706.9 392.7 L707.1 393.2 L707.4 393.8 L707.7 394.5 L708.0 395.2 L708.3 396.0 L708.7 396.9 L709.0 397.7 L709.3 398.6 L709.6 399.5 L709.7 400.4 L709.9 401.3 L709.9 402.2 L709.8 403.0 L709.6 403.8 L709.4 404.6 L709.0 405.4 L708.6 406.2 L708.1 407.1 L707.6 407.9 L707.0 408.7 L706.4 409.6 L705.8 410.4 L705.2 411.3 L704.6 412.2 L704.1 413.1 L703.6 414.0 L703.1 414.9 L702.7 415.9 L702.3 416.9 L701.9 417.9 L701.5 418.9 L701.1 420.0 L700.7 421.0 L700.3 422.1 L699.9 423.2 L699.5 424.2 L699.2 425.3 L698.8 426.3 L698.5 427.3 L698.2 428.3 L697.9 429.3 L697.6 430.2 L697.4 431.1 L697.1 431.9 L696.9 432.8 L696.8 433.6 L696.6 434.4 L696.4 435.2 L696.3 436.0 L696.1 436.9 L695.9 437.7 L695.7 438.5 L695.5 439.4 L695.3 440.3 L695.0 441.2 L694.7 442.2 L694.5 443.2 L694.2 444.2 L693.9 445.3 L693.6 446.3 L693.3 447.4 L693.0 448.5 L692.7 449.6 L692.3 450.7 L691.9 451.7 L691.5 452.7 L691.1 453.7 L690.7 454.6 L690.2 455.5 L689.8 456.4 L689.2 457.2 L688.7 457.9 L688.2 458.7 L687.6 459.4 L687.0 460.1 L686.4 460.8 L685.8 461.4 L685.1 462.1 L684.5 462.7 L683.8 463.3 L683.1 463.9 L682.4 464.5 L681.6 465.1 L680.9 465.6 L680.1 466.2 L679.3 466.7 L678.5 467.2 L677.7 467.8 L676.8 468.2 L676.0 468.7 L675.1 469.2 L674.2 469.6 L673.3 470.1 L672.4 470.5 L671.5 470.9 L670.6 471.3 L669.7 471.8 L668.8 472.1 L667.8 472.5 L666.9 472.8 L665.9 473.1 L664.9 473.4 L663.8 473.7 L662.8 473.9 L661.8 474.2 L660.9 474.5 L659.9 474.8 L659.0 475.2 L658.1 475.6 L657.3 476.0 L656.6 476.5 L655.8 477.1 L655.1 477.7 L654.4 478.3 L653.7 479.0 L653.0 479.7 L652.3 480.5 L651.7 481.2 L651.2 482.0 L650.7 482.8 L650.2 483.5 L649.9 484.3 L649.6 485.1 L649.5 485.8 L649.4 486.6 L649.5 487.3 L649.6 488.1 L649.9 488.8 L650.2 489.6 L650.7 490.4 L651.2 491.2 L651.7 491.9 L652.3 492.7 L653.0 493.4 L653.7 494.1 L654.4 494.8 L655.1 495.5 L655.8 496.1 L656.6 496.6 L657.3 497.1 L658.1 497.6 L659.0 498.1 L659.9 498.6 L660.9 499.0 L661.8 499.4 L662.8 499.8 L663.8 500.1 L664.9 500.4 L665.9 500.6 L666.9 500.8 L667.8 500.9 L668.8 500.9 L669.7 500.9 L670.6 500.8 L671.5 500.5 L672.4 500.2 L673.4 499.8 L674.3 499.4 L675.2 498.9 L676.1 498.3 L677.0 497.8 L677.8 497.2 L678.6 496.5 L679.5 495.9 L680.2 495.3 L681.0 494.8 L681.6 494.2 L682.3 493.7 L682.9 493.1 L683.5 492.4 L684.1 491.8 L684.7 491.1 L685.2 490.4 L685.7 489.7 L686.2 489.1 L686.6 488.4 L687.1 487.9 L687.4 487.3 L687.8 486.8 L688.1 486.4 L688.3 486.1" fill="none" stroke="#7fa3d8" stroke-width="6.0" stroke-linecap="round" opacity="0.55"/>
<path d="M706.7 392.2 L705.8 393.1 L704.9 394.1 L704.2 395.2 L704.0 396.1 L704.7 396.7 L706.4 396.8 L708.8 396.8 L711.1 397.0 L712.9 397.5 L713.4 398.6 L712.6 399.9 L710.8 401.2 L708.7 402.1 L706.9 402.5 L705.9 402.7 L705.8 403.2 L706.7 404.3 L708.2 406.0 L709.7 408.0 L710.6 409.9 L710.3 411.0 L708.7 411.1 L706.1 410.7 L703.4 410.1 L701.5 410.2 L700.8 411.2 L701.6 413.0 L703.3 415.0 L705.1 416.9 L705.9 418.4 L705.1 419.2 L702.8 419.4 L699.8 419.5 L697.4 419.8 L696.6 420.8 L697.5 422.3 L699.7 424.3 L701.7 426.1 L702.6 427.5 L701.8 428.4 L699.7 428.8 L697.0 429.0 L694.8 429.4 L693.5 430.1 L693.6 431.0 L694.6 432.2 L696.4 433.5 L698.2 434.8 L699.6 435.9 L700.1 436.8 L699.7 437.6 L698.2 438.2 L696.0 438.6 L693.7 438.9 L691.9 439.4 L691.2 440.1 L691.8 441.3 L693.7 442.9 L695.9 444.7 L697.4 446.2 L697.3 447.4 L695.4 448.0 L692.4 448.3 L689.8 448.7 L688.5 449.4 L689.0 450.6 L690.8 452.4 L692.8 454.4 L693.9 456.2 L693.7 457.4 L692.2 457.8 L689.9 457.6 L687.4 457.0 L685.5 456.7 L684.5 456.9 L684.5 457.9 L685.2 459.6 L686.1 461.8 L686.9 463.9 L687.0 465.5 L686.3 466.2 L684.8 465.9 L682.7 464.9 L680.6 463.7 L678.8 462.9 L677.8 462.9 L677.6 464.1 L677.9 466.3 L678.3 468.8 L678.4 471.1 L677.9 472.2 L676.6 472.1 L674.8 470.8 L672.8 469.0 L671.0 467.6 L669.8 467.3 L669.2 468.3 L669.1 470.5 L669.2 473.1 L668.9 475.5 L668.0 476.6 L666.8 476.2 L665.1 474.5 L663.5 472.2 L661.9 470.6 L660.7 470.4 L660.0 471.7 L659.7 474.1 L659.7 476.7 L659.7 478.7 L659.4 479.5 L658.5 479.2 L656.8 478.3 L654.6 477.1 L652.4 476.2 L650.9 476.2 L650.4 477.3 L651.0 479.3 L652.2 481.6 L653.4 483.5 L654.0 484.8 L653.6 485.3 L652.4 485.3 L650.5 485.3 L648.4 485.7 L646.8 486.6 L645.8 487.8 L645.8 489.1 L646.8 490.0 L648.7 490.3 L651.1 490.1 L653.3 489.7 L654.8 489.6 L655.2 490.3 L654.6 491.9 L653.6 494.2 L652.8 496.6 L652.7 498.4 L653.5 499.1 L655.0 498.8 L657.0 497.6 L659.0 496.1 L660.7 495.0 L661.7 495.0 L662.0 496.5 L662.0 499.0 L662.1 501.8 L662.7 503.7 L663.9 504.1 L665.4 502.9 L666.9 500.7 L668.0 498.5 L668.8 497.1 L669.3 497.0 L670.1 498.1 L671.3 499.9 L673.1 501.9 L674.8 503.0 L676.1 502.9 L676.6 501.3 L676.3 498.7 L675.8 496.0 L675.6 494.1 L676.4 493.5 L678.0 494.0 L680.1 495.2 L682.3 496.4 L683.9 497.0 L685.0 496.6 L685.2 495.4 L684.7 493.5 L683.6 491.3 L682.6 489.4 L682.2 488.1 L682.6 487.4 L683.8 487.3 L685.5 487.6 L687.3 488.1 L689.0 488.4 L690.3 488.6 L691.0 488.6 L691.5 488.5" fill="none" stroke="#27468f" stroke-width="1.8" stroke-linejoin="round" stroke-linecap="round"/>
<path d="M706.7 392.2 L707.9 392.3 L709.3 392.3 L710.5 392.4 L711.3 392.8 L711.2 393.8 L710.3 395.2 L708.6 396.9 L706.9 398.5 L705.8 399.7 L705.8 400.4 L706.9 400.9 L708.9 401.4 L711.1 402.2 L712.7 403.4 L713.4 404.8 L712.9 406.0 L711.3 406.5 L709.0 406.5 L706.5 406.1 L704.6 405.9 L703.7 406.5 L704.2 408.0 L705.5 410.2 L707.0 412.5 L707.8 414.2 L707.4 415.0 L705.6 415.0 L702.9 414.8 L700.3 414.8 L698.7 415.3 L698.6 416.6 L700.1 418.4 L702.3 420.4 L703.9 422.2 L704.0 423.4 L702.2 424.0 L699.4 424.2 L696.6 424.4 L695.1 425.1 L695.2 426.2 L696.7 427.8 L698.7 429.5 L700.4 431.0 L701.2 432.1 L700.7 432.8 L699.2 433.3 L697.1 433.7 L695.0 434.1 L693.2 434.6 L692.4 435.2 L692.5 436.1 L693.6 437.2 L695.4 438.5 L697.3 439.8 L698.6 441.2 L698.8 442.3 L697.6 443.0 L695.2 443.4 L692.4 443.7 L690.4 444.3 L689.9 445.3 L691.2 446.8 L693.5 448.7 L695.5 450.5 L696.1 451.9 L694.8 452.8 L692.3 453.0 L689.5 453.0 L687.5 453.0 L686.8 453.6 L687.3 454.9 L688.6 456.7 L690.0 458.8 L690.8 460.7 L690.7 461.9 L689.5 462.3 L687.6 461.9 L685.4 461.1 L683.3 460.2 L681.9 459.9 L681.2 460.4 L681.4 461.9 L682.0 464.1 L682.7 466.4 L682.9 468.4 L682.4 469.5 L681.0 469.4 L679.1 468.2 L677.0 466.7 L675.2 465.4 L674.1 465.2 L673.6 466.3 L673.6 468.5 L673.8 471.1 L673.8 473.4 L673.2 474.6 L672.0 474.4 L670.3 473.0 L668.4 471.2 L666.8 469.5 L665.7 469.0 L665.0 470.0 L664.6 472.3 L664.2 475.1 L663.8 477.3 L663.0 478.0 L661.8 477.3 L660.2 475.5 L658.4 473.7 L656.6 472.5 L655.3 472.6 L654.7 473.9 L654.9 475.9 L655.6 478.3 L656.4 480.5 L656.5 481.8 L655.6 482.1 L653.7 481.6 L651.3 480.9 L648.9 480.5 L647.3 480.8 L646.8 481.8 L647.4 483.3 L648.8 484.9 L650.5 486.0 L652.1 486.6 L653.1 486.8 L653.5 487.0 L652.9 487.6 L651.7 488.9 L650.2 490.7 L649.0 492.6 L648.6 494.3 L649.5 495.1 L651.3 495.0 L653.7 494.1 L656.0 493.1 L657.6 492.6 L658.2 493.0 L658.1 494.4 L657.7 496.6 L657.3 499.1 L657.3 501.2 L658.2 502.1 L659.7 501.5 L661.7 499.8 L663.5 497.8 L664.9 496.5 L665.8 496.7 L666.3 498.4 L666.8 500.9 L667.7 503.3 L668.8 504.7 L670.1 504.7 L671.1 503.4 L671.7 501.1 L671.8 498.6 L671.9 496.6 L672.4 495.9 L673.8 496.5 L675.9 498.0 L678.1 499.5 L680.0 500.2 L680.9 499.6 L680.9 497.8 L680.3 495.4 L679.6 493.1 L679.4 491.4 L679.6 490.7 L680.6 490.8 L682.4 491.4 L684.6 492.2 L686.7 492.7 L688.2 492.7 L688.9 492.1 L688.6 490.8 L687.8 489.3 L686.8 487.7 L685.9 486.2 L685.3 485.1 L685.1 484.2 L685.2 483.6" fill="none" stroke="#2f55a6" stroke-width="1.8" stroke-linejoin="round" stroke-linecap="round"/>
<path d="M715.6 400.6 L715.8 400.9 L716.2 401.2 L716.6 401.6 L717.0 402.1 L717.5 402.5 L718.1 403.1 L718.6 403.6 L719.2 404.2 L719.8 404.8 L720.3 405.4 L720.8 406.0 L721.4 406.6 L721.8 407.2 L722.2 407.8 L722.6 408.4 L723.1 409.0 L723.5 409.7 L723.9 410.4 L724.3 411.1 L724.7 411.8 L725.1 412.5 L725.4 413.2 L725.7 413.9 L726.0 414.6 L726.2 415.2 L726.4 415.8 L726.5 416.3 L726.5 416.8 L726.5 417.3 L726.3 417.7 L726.1 418.1 L725.8 418.5 L725.5 418.8 L725.1 419.1 L724.7 419.4 L724.2 419.7 L723.8 420.0 L723.4 420.2 L723.0 420.4 L722.7 420.6 L722.4 420.7 L722.2 420.9" fill="none" stroke="#7fa3d8" stroke-width="5.1" stroke-linecap="round" opacity="0.55"/>
<path d="M715.6 400.6 L715.2 401.5 L714.8 402.6 L714.6 403.7 L714.7 404.5 L715.3 404.8 L716.6 404.6 L718.3 403.9 L720.2 403.2 L721.8 402.8 L722.8 403.1 L723.0 404.1 L722.5 405.6 L721.6 407.3 L720.7 408.8 L720.1 410.0 L720.2 410.8 L721.1 411.2 L722.7 411.1 L724.7 410.8 L726.7 410.7 L728.0 411.0 L728.4 411.8 L727.9 412.9 L726.9 414.2 L725.6 415.4 L724.5 416.2 L723.6 416.7 L723.2 416.8 L723.2 416.5 L723.5 416.4 L724.0 416.7 L724.6 417.4 L725.1 418.4 L725.5 419.7 L725.6 420.9 L725.6 422.0 L725.4 422.7 L725.1 423.1 L724.6 423.2 L724.2 423.0 L723.8 422.7 L723.5 422.4" fill="none" stroke="#27468f" stroke-width="1.8" stroke-linejoin="round" stroke-linecap="round"/>
<path d="M715.6 400.6 L716.5 400.2 L717.6 399.8 L718.6 399.5 L719.4 399.6 L719.7 400.3 L719.6 401.5 L719.0 403.3 L718.2 405.2 L717.7 406.7 L717.8 407.6 L718.7 407.9 L720.2 407.5 L722.0 407.0 L723.7 406.7 L725.1 406.7 L725.9 407.2 L725.9 408.2 L725.1 409.7 L723.9 411.3 L722.7 412.8 L722.2 414.0 L722.5 414.6 L723.5 414.8 L725.1 414.9 L726.8 415.0 L728.3 415.3 L729.4 416.0 L729.9 416.9 L729.8 418.0 L729.2 419.0 L728.2 419.5 L727.0 419.6 L725.8 419.2 L724.7 418.6 L723.7 418.0 L722.8 417.4 L722.2 417.2 L721.7 417.2 L721.4 417.5 L721.2 418.1 L721.1 418.8 L721.0 419.4" fill="none" stroke="#2f55a6" stroke-width="1.8" stroke-linejoin="round" stroke-linecap="round"/>
<path d="M703.6 450.3 L703.1 450.8 L702.4 451.4 L701.5 452.1 L700.6 452.9 L699.6 453.8 L698.6 454.8 L697.4 455.8 L696.3 456.8 L695.2 457.8 L694.0 458.8 L692.9 459.8 L691.9 460.6 L690.9 461.5 L690.0 462.2 L689.2 462.9 L688.3 463.5 L687.5 464.0 L686.7 464.5 L686.0 465.0 L685.2 465.5 L684.5 465.9 L683.7 466.4 L683.0 466.8 L682.3 467.3 L681.7 467.7 L681.0 468.2 L680.4 468.8 L679.7 469.4 L679.1 470.0 L678.5 470.7 L678.0 471.4 L677.5 472.2 L677.0 473.0 L676.5 473.7 L676.0 474.5 L675.5 475.3 L675.0 476.1 L674.6 476.8 L674.1 477.5 L673.6 478.2 L673.1 478.8 L672.6 479.4 L672.0 479.9 L671.4 480.4 L670.8 480.9 L670.2 481.3 L669.6 481.7 L668.9 482.1 L668.3 482.4 L667.7 482.7 L667.1 483.0 L666.6 483.3 L666.1 483.6 L665.6 483.8 L665.2 484.0 L664.9 484.2" fill="none" stroke="#7fa3d8" stroke-width="5.4" stroke-linecap="round" opacity="0.55"/>
<path d="M703.6 450.3 L701.9 449.4 L700.1 448.9 L699.3 449.6 L699.8 452.1 L701.0 455.4 L701.0 457.5 L698.6 457.1 L695.1 455.4 L692.8 455.1 L693.0 457.6 L694.2 461.2 L694.2 463.4 L692.4 463.3 L689.8 462.0 L687.6 460.8 L686.3 460.5 L685.9 461.6 L686.2 463.7 L686.6 466.1 L686.8 468.0 L686.3 469.0 L685.3 468.9 L683.8 467.9 L681.9 466.7 L680.2 465.7 L678.8 465.5 L678.1 466.3 L678.3 467.9 L679.2 470.1 L680.3 472.1 L680.8 473.5 L680.3 474.1 L678.6 474.0 L676.2 473.6 L673.9 473.3 L672.5 473.5 L672.3 474.4 L673.1 475.9 L674.3 477.7 L675.3 479.6 L675.6 481.0 L675.1 481.9 L673.8 482.0 L672.2 481.3 L670.4 480.3 L668.9 479.3 L667.8 478.8 L667.2 479.0 L667.0 480.0 L667.1 481.5 L667.2 483.2 L667.3 484.8 L667.3 486.0 L667.2 486.8 L667.0 487.1 L666.7 487.2" fill="none" stroke="#27468f" stroke-width="1.8" stroke-linejoin="round" stroke-linecap="round"/>
<path d="M703.6 450.3 L704.2 452.1 L704.6 453.9 L703.8 454.6 L701.4 453.8 L698.3 452.3 L696.2 452.1 L696.3 454.5 L697.6 458.2 L697.5 460.5 L695.1 460.0 L691.7 458.3 L689.6 457.9 L689.4 459.6 L690.2 462.4 L690.7 465.0 L690.4 466.4 L689.1 466.4 L687.2 465.3 L685.3 463.9 L683.6 462.9 L682.6 462.8 L682.2 463.8 L682.3 465.7 L682.7 467.8 L683.2 469.8 L683.2 471.0 L682.6 471.3 L681.1 470.8 L679.1 470.0 L676.8 469.3 L675.2 469.4 L674.7 470.3 L675.3 471.9 L676.7 473.9 L678.0 475.8 L678.5 477.2 L677.8 477.8 L676.1 477.8 L673.8 477.4 L671.8 476.9 L670.5 476.6 L670.1 476.9 L670.2 477.9 L670.7 479.5 L671.2 481.4 L671.5 483.3 L671.3 484.6 L670.7 485.1 L669.6 484.8 L668.3 484.0 L667.0 482.8 L665.8 481.8 L664.8 481.1 L664.1 480.8 L663.5 480.9 L663.2 481.1" fill="none" stroke="#2f55a6" stroke-width="1.8" stroke-linejoin="round" stroke-linecap="round"/>
<path d="M654.2 480.6 L654.7 481.1 L655.4 481.7 L656.1 482.4 L657.0 483.3 L657.9 484.2 L658.9 485.2 L660.0 486.1 L661.0 487.1 L662.1 488.0 L663.2 488.9 L664.3 489.6 L665.4 490.2 L666.4 490.6 L667.3 490.9 L668.3 490.9 L669.2 490.7 L670.2 490.4 L671.3 490.0 L672.3 489.5 L673.3 488.8 L674.3 488.2 L675.3 487.5 L676.2 486.8 L677.1 486.1 L677.9 485.5 L678.6 484.9 L679.2 484.5 L679.7 484.2" fill="none" stroke="#7fa3d8" stroke-width="4.8" stroke-linecap="round" opacity="0.55"/>
<path d="M654.2 480.6 L653.7 482.2 L653.4 483.8 L654.0 484.6 L656.1 484.2 L659.0 483.1 L661.1 482.9 L661.3 484.7 L660.4 487.9 L660.2 490.4 L661.8 490.8 L664.4 489.5 L666.5 488.0 L667.4 487.6 L667.6 488.6 L668.2 490.4 L669.6 492.4 L671.3 493.3 L672.5 492.5 L672.7 490.2 L672.4 487.4 L672.5 485.6 L673.9 485.5 L676.1 486.6 L678.4 487.7 L679.8 488.0 L680.3 487.2 L680.2 486.0 L680.0 484.7" fill="none" stroke="#27468f" stroke-width="1.8" stroke-linejoin="round" stroke-linecap="round"/>
<path d="M654.2 480.6 L655.7 479.9 L657.4 479.6 L658.3 480.2 L657.9 482.3 L656.9 485.3 L656.7 487.5 L658.6 487.6 L661.7 486.3 L664.1 485.6 L664.6 486.9 L664.2 489.7 L664.2 492.4 L665.3 493.6 L667.0 493.1 L668.3 491.4 L668.9 489.1 L669.2 487.5 L670.1 487.5 L671.9 488.7 L674.3 490.3 L676.1 490.8 L676.8 489.5 L676.4 486.9 L675.9 484.5 L676.0 483.0 L676.9 482.6 L678.2 483.0 L679.4 483.7" fill="none" stroke="#2f55a6" stroke-width="1.8" stroke-linejoin="round" stroke-linecap="round"/>
<path d="M657.3 503.3 L657.7 503.4 L658.2 503.6 L658.8 503.8 L659.5 504.1 L660.2 504.4 L661.0 504.7 L661.9 505.0 L662.7 505.2 L663.5 505.5 L664.4 505.7 L665.2 505.9 L665.9 506.1 L666.7 506.1 L667.3 506.1 L667.9 506.1 L668.5 505.9 L669.2 505.7 L669.8 505.4 L670.4 505.1 L671.0 504.8 L671.5 504.4 L672.1 504.0 L672.6 503.7 L673.0 503.3 L673.5 503.0 L673.9 502.7 L674.2 502.5 L674.5 502.3" fill="none" stroke="#7fa3d8" stroke-width="4.2" stroke-linecap="round" opacity="0.55"/>
<path d="M657.3 503.3 L657.4 504.3 L657.5 505.4 L657.9 506.3 L658.5 506.6 L659.6 506.0 L661.0 504.7 L662.4 503.3 L663.5 502.6 L664.2 503.1 L664.6 504.7 L665.0 506.6 L665.6 508.2 L666.5 508.9 L667.5 508.7 L668.3 507.9 L668.7 506.5 L668.8 504.9 L668.9 503.6 L669.0 502.7 L669.6 502.5 L670.5 502.9 L671.7 503.6 L673.0 504.3 L674.2 504.9 L675.0 505.1 L675.5 505.0 L675.7 504.7 L675.7 504.4" fill="none" stroke="#27468f" stroke-width="1.8" stroke-linejoin="round" stroke-linecap="round"/>
<path d="M657.3 503.3 L658.0 502.5 L658.9 501.8 L659.8 501.3 L660.5 501.6 L660.9 502.8 L661.0 504.6 L661.3 506.6 L661.8 507.8 L662.8 507.9 L664.1 506.8 L665.3 505.2 L666.3 503.9 L666.8 503.4 L667.2 503.6 L667.6 504.3 L668.4 505.4 L669.5 506.5 L670.7 507.3 L671.7 507.5 L672.3 507.0 L672.5 506.0 L672.4 504.5 L672.1 503.1 L671.9 501.8 L671.9 500.9 L672.2 500.5 L672.7 500.3 L673.3 500.3" fill="none" stroke="#2f55a6" stroke-width="1.8" stroke-linejoin="round" stroke-linecap="round"/>
<rect x="710.4" y="421.5" width="5.6" height="18" rx="2.8" fill="#2f82da" stroke="#1f5ca8" stroke-width="0.8" transform="rotate(14 713.2 430.4)"/>
<circle cx="706.7" cy="388.2" r="3.9" fill="#fdf2e4" stroke="#7d6258" stroke-width="0.8"/>
<circle cx="706.7" cy="388.2" r="2.7" fill="#f28fa0"/>
<circle cx="727.0" cy="395.3" r="3.9" fill="#fdf2e4" stroke="#7d6258" stroke-width="0.8"/>
<circle cx="727.0" cy="395.3" r="2.7" fill="#f7c878"/>
<circle cx="734.7" cy="404.2" r="3.9" fill="#fdf2e4" stroke="#7d6258" stroke-width="0.8"/>
<circle cx="734.7" cy="404.2" r="2.7" fill="#f28fa0"/>
<circle cx="731.1" cy="414.9" r="3.9" fill="#fdf2e4" stroke="#7d6258" stroke-width="0.8"/>
<circle cx="731.1" cy="414.9" r="2.7" fill="#8ccc7c"/>
<circle cx="725.3" cy="426.4" r="3.9" fill="#fdf2e4" stroke="#7d6258" stroke-width="0.8"/>
<circle cx="725.3" cy="426.4" r="2.7" fill="#f7c878"/>
<circle cx="690.0" cy="471.5" r="3.9" fill="#fdf2e4" stroke="#7d6258" stroke-width="0.8"/>
<circle cx="690.0" cy="471.5" r="2.7" fill="#f7c878"/>
<circle cx="679.3" cy="478.2" r="3.9" fill="#fdf2e4" stroke="#7d6258" stroke-width="0.8"/>
<circle cx="679.3" cy="478.2" r="2.7" fill="#8ccc7c"/>
<circle cx="667.3" cy="486.6" r="3.9" fill="#fdf2e4" stroke="#7d6258" stroke-width="0.8"/>
<circle cx="667.3" cy="486.6" r="2.7" fill="#f28fa0"/>
<circle cx="637.5" cy="494.2" r="3.9" fill="#fdf2e4" stroke="#7d6258" stroke-width="0.8"/>
<circle cx="637.5" cy="494.2" r="2.7" fill="#f28fa0"/>
<circle cx="644.6" cy="508.1" r="3.9" fill="#fdf2e4" stroke="#7d6258" stroke-width="0.8"/>
<circle cx="644.6" cy="508.1" r="2.7" fill="#8ccc7c"/>
<circle cx="664.4" cy="512.8" r="3.9" fill="#fdf2e4" stroke="#7d6258" stroke-width="0.8"/>
<circle cx="664.4" cy="512.8" r="2.7" fill="#f7c878"/>
<circle cx="686.4" cy="510.0" r="3.9" fill="#fdf2e4" stroke="#7d6258" stroke-width="0.8"/>
<circle cx="686.4" cy="510.0" r="2.7" fill="#f7c878"/>
</g>
<g id="reo">
<polygon points="865.0,382.3 841.1,411.4 888.9,411.4" fill="#fbe7c4" stroke="#43341f" stroke-width="1.1" stroke-linejoin="round"/>
<polygon points="841.1,411.4 888.9,411.4 865.0,452.2" fill="#f9d18a" stroke="#43341f" stroke-width="1.1" stroke-linejoin="round"/>
<polygon points="865.0,382.3 828.8,403.9 841.1,411.4" fill="#f8c972" stroke="#43341f" stroke-width="1.1" stroke-linejoin="round"/>
<polygon points="828.8,403.9 828.8,445.3 841.1,411.4" fill="#f5b850" stroke="#43341f" stroke-width="1.1" stroke-linejoin="round"/>
<polygon points="841.1,411.4 828.8,445.3 865.0,452.2" fill="#f6c062" stroke="#43341f" stroke-width="1.1" stroke-linejoin="round"/>
<polygon points="865.0,382.3 901.2,403.9 888.9,411.4" fill="#fdf1df" stroke="#43341f" stroke-width="1.1" stroke-linejoin="round"/>
<polygon points="901.2,403.9 901.2,445.3 888.9,411.4" fill="#fae9cc" stroke="#43341f" stroke-width="1.1" stroke-linejoin="round"/>
<polygon points="888.9,411.4 901.2,445.3 865.0,452.2" fill="#f8cc80" stroke="#43341f" stroke-width="1.1" stroke-linejoin="round"/>
<polygon points="828.8,445.3 865.0,466.9 865.0,452.2" fill="#f5b74e" stroke="#43341f" stroke-width="1.1" stroke-linejoin="round"/>
<polygon points="901.2,445.3 865.0,466.9 865.0,452.2" fill="#f6c068" stroke="#43341f" stroke-width="1.1" stroke-linejoin="round"/>
</g>
<g id="polio">
<polygon points="989.3,403.1 977.4,417.6 1001.2,417.6" fill="#b6c3e5" stroke="#1c2f5c" stroke-width="0.9" stroke-linejoin="round"/>
<polygon points="977.4,417.6 1001.2,417.6 989.3,438.0" fill="#7d97ca" stroke="#1c2f5c" stroke-width="0.9" stroke-linejoin="round"/>
<polygon points="989.3,403.1 971.2,413.9 977.4,417.6" fill="#4b6aad" stroke="#1c2f5c" stroke-width="0.9" stroke-linejoin="round"/>
<polygon points="971.2,413.9 971.2,434.5 977.4,417.6" fill="#2c4c90" stroke="#1c2f5c" stroke-width="0.9" stroke-linejoin="round"/>
<polygon points="977.4,417.6 971.2,434.5 989.3,438.0" fill="#3a5b9d" stroke="#1c2f5c" stroke-width="0.9" stroke-linejoin="round"/>
<polygon points="989.3,403.1 1007.4,413.9 1001.2,417.6" fill="#eef1f9" stroke="#1c2f5c" stroke-width="0.9" stroke-linejoin="round"/>
<polygon points="1007.4,413.9 1007.4,434.5 1001.2,417.6" fill="#d6ddf0" stroke="#1c2f5c" stroke-width="0.9" stroke-linejoin="round"/>
<polygon points="1001.2,417.6 1007.4,434.5 989.3,438.0" fill="#8ba3d0" stroke="#1c2f5c" stroke-width="0.9" stroke-linejoin="round"/>
<polygon points="971.2,434.5 989.3,445.3 989.3,438.0" fill="#25427f" stroke="#1c2f5c" stroke-width="0.9" stroke-linejoin="round"/>
<polygon points="1007.4,434.5 989.3,445.3 989.3,438.0" fill="#2f4e90" stroke="#1c2f5c" stroke-width="0.9" stroke-linejoin="round"/>
</g>
<g id="vsv">
<g transform="rotate(-5 1114 460)">
<line x1="1084.5" y1="527.0" x2="1070.8" y2="527.0" stroke="#3c3c4a" stroke-width="1.1" />
<circle cx="1070.8" cy="527.0" r="4.0" fill="url(#pinkball)" stroke="#8e2e7c" stroke-width="1.5"/>
<line x1="1084.5" y1="514.5" x2="1070.8" y2="514.5" stroke="#3c3c4a" stroke-width="1.1" />
<circle cx="1070.8" cy="514.5" r="4.0" fill="url(#pinkball)" stroke="#8e2e7c" stroke-width="1.5"/>
<line x1="1084.5" y1="502.0" x2="1070.8" y2="502.0" stroke="#3c3c4a" stroke-width="1.1" />
<circle cx="1070.8" cy="502.0" r="4.0" fill="url(#pinkball)" stroke="#8e2e7c" stroke-width="1.5"/>
<line x1="1084.5" y1="489.5" x2="1070.8" y2="489.5" stroke="#3c3c4a" stroke-width="1.1" />
<circle cx="1070.8" cy="489.5" r="4.0" fill="url(#pinkball)" stroke="#8e2e7c" stroke-width="1.5"/>
<line x1="1084.5" y1="477.0" x2="1070.8" y2="477.0" stroke="#3c3c4a" stroke-width="1.1" />
<circle cx="1070.8" cy="477.0" r="4.0" fill="url(#pinkball)" stroke="#8e2e7c" stroke-width="1.5"/>
<line x1="1084.5" y1="464.5" x2="1070.8" y2="464.5" stroke="#3c3c4a" stroke-width="1.1" />
<circle cx="1070.8" cy="464.5" r="4.0" fill="url(#pinkball)" stroke="#8e2e7c" stroke-width="1.5"/>
<line x1="1084.5" y1="452.0" x2="1070.8" y2="452.0" stroke="#3c3c4a" stroke-width="1.1" />
<circle cx="1070.8" cy="452.0" r="4.0" fill="url(#pinkball)" stroke="#8e2e7c" stroke-width="1.5"/>
<line x1="1084.5" y1="439.5" x2="1070.8" y2="439.5" stroke="#3c3c4a" stroke-width="1.1" />
<circle cx="1070.8" cy="439.5" r="4.0" fill="url(#pinkball)" stroke="#8e2e7c" stroke-width="1.5"/>
<line x1="1084.5" y1="427.0" x2="1070.8" y2="427.0" stroke="#3c3c4a" stroke-width="1.1" />
<circle cx="1070.8" cy="427.0" r="4.0" fill="url(#pinkball)" stroke="#8e2e7c" stroke-width="1.5"/>
<line x1="1084.5" y1="414.5" x2="1070.8" y2="414.5" stroke="#3c3c4a" stroke-width="1.1" />
<circle cx="1070.8" cy="414.5" r="4.0" fill="url(#pinkball)" stroke="#8e2e7c" stroke-width="1.5"/>
<line x1="1085.9" y1="403.9" x2="1072.9" y2="399.7" stroke="#3c3c4a" stroke-width="1.1" />
<circle cx="1072.9" cy="399.7" r="4.0" fill="url(#pinkball)" stroke="#8e2e7c" stroke-width="1.5"/>
<line x1="1090.1" y1="395.7" x2="1079.1" y2="387.6" stroke="#3c3c4a" stroke-width="1.1" />
<circle cx="1079.1" cy="387.6" r="4.0" fill="url(#pinkball)" stroke="#8e2e7c" stroke-width="1.5"/>
<line x1="1096.7" y1="389.1" x2="1088.6" y2="378.1" stroke="#3c3c4a" stroke-width="1.1" />
<circle cx="1088.6" cy="378.1" r="4.0" fill="url(#pinkball)" stroke="#8e2e7c" stroke-width="1.5"/>
<line x1="1104.9" y1="384.9" x2="1100.7" y2="371.9" stroke="#3c3c4a" stroke-width="1.1" />
<circle cx="1100.7" cy="371.9" r="4.0" fill="url(#pinkball)" stroke="#8e2e7c" stroke-width="1.5"/>
<line x1="1114.0" y1="383.5" x2="1114.0" y2="369.8" stroke="#3c3c4a" stroke-width="1.1" />
<circle cx="1114.0" cy="369.8" r="4.0" fill="url(#pinkball)" stroke="#8e2e7c" stroke-width="1.5"/>
<line x1="1123.1" y1="384.9" x2="1127.3" y2="371.9" stroke="#3c3c4a" stroke-width="1.1" />
<circle cx="1127.3" cy="371.9" r="4.0" fill="url(#pinkball)" stroke="#8e2e7c" stroke-width="1.5"/>
<line x1="1131.3" y1="389.1" x2="1139.4" y2="378.1" stroke="#3c3c4a" stroke-width="1.1" />
<circle cx="1139.4" cy="378.1" r="4.0" fill="url(#pinkball)" stroke="#8e2e7c" stroke-width="1.5"/>
<line x1="1137.9" y1="395.7" x2="1148.9" y2="387.6" stroke="#3c3c4a" stroke-width="1.1" />
<circle cx="1148.9" cy="387.6" r="4.0" fill="url(#pinkball)" stroke="#8e2e7c" stroke-width="1.5"/>
<line x1="1142.1" y1="403.9" x2="1155.1" y2="399.7" stroke="#3c3c4a" stroke-width="1.1" />
<circle cx="1155.1" cy="399.7" r="4.0" fill="url(#pinkball)" stroke="#8e2e7c" stroke-width="1.5"/>
<line x1="1143.5" y1="411.5" x2="1157.2" y2="411.5" stroke="#3c3c4a" stroke-width="1.1" />
<circle cx="1157.2" cy="411.5" r="4.0" fill="url(#pinkball)" stroke="#8e2e7c" stroke-width="1.5"/>
<line x1="1143.5" y1="424.0" x2="1157.2" y2="424.0" stroke="#3c3c4a" stroke-width="1.1" />
<circle cx="1157.2" cy="424.0" r="4.0" fill="url(#pinkball)" stroke="#8e2e7c" stroke-width="1.5"/>
<line x1="1143.5" y1="436.5" x2="1157.2" y2="436.5" stroke="#3c3c4a" stroke-width="1.1" />
<circle cx="1157.2" cy="436.5" r="4.0" fill="url(#pinkball)" stroke="#8e2e7c" stroke-width="1.5"/>
<line x1="1143.5" y1="449.0" x2="1157.2" y2="449.0" stroke="#3c3c4a" stroke-width="1.1" />
<circle cx="1157.2" cy="449.0" r="4.0" fill="url(#pinkball)" stroke="#8e2e7c" stroke-width="1.5"/>
<line x1="1143.5" y1="461.5" x2="1157.2" y2="461.5" stroke="#3c3c4a" stroke-width="1.1" />
<circle cx="1157.2" cy="461.5" r="4.0" fill="url(#pinkball)" stroke="#8e2e7c" stroke-width="1.5"/>
<line x1="1143.5" y1="474.0" x2="1157.2" y2="474.0" stroke="#3c3c4a" stroke-width="1.1" />
<circle cx="1157.2" cy="474.0" r="4.0" fill="url(#pinkball)" stroke="#8e2e7c" stroke-width="1.5"/>
<line x1="1143.5" y1="486.5" x2="1157.2" y2="486.5" stroke="#3c3c4a" stroke-width="1.1" />
<circle cx="1157.2" cy="486.5" r="4.0" fill="url(#pinkball)" stroke="#8e2e7c" stroke-width="1.5"/>
<line x1="1143.5" y1="499.0" x2="1157.2" y2="499.0" stroke="#3c3c4a" stroke-width="1.1" />
<circle cx="1157.2" cy="499.0" r="4.0" fill="url(#pinkball)" stroke="#8e2e7c" stroke-width="1.5"/>
<line x1="1143.5" y1="511.5" x2="1157.2" y2="511.5" stroke="#3c3c4a" stroke-width="1.1" />
<circle cx="1157.2" cy="511.5" r="4.0" fill="url(#pinkball)" stroke="#8e2e7c" stroke-width="1.5"/>
<line x1="1143.5" y1="524.0" x2="1157.2" y2="524.0" stroke="#3c3c4a" stroke-width="1.1" />
<circle cx="1157.2" cy="524.0" r="4.0" fill="url(#pinkball)" stroke="#8e2e7c" stroke-width="1.5"/>
<line x1="1090.0" y1="525.0" x2="1090.0" y2="541.0" stroke="#3c3c4a" stroke-width="1.1" />
<circle cx="1090.0" cy="541.0" r="4.0" fill="url(#pinkball)" stroke="#8e2e7c" stroke-width="1.5"/>
<line x1="1102.5" y1="525.0" x2="1102.5" y2="541.0" stroke="#3c3c4a" stroke-width="1.1" />
<circle cx="1102.5" cy="541.0" r="4.0" fill="url(#pinkball)" stroke="#8e2e7c" stroke-width="1.5"/>
<line x1="1115.0" y1="525.0" x2="1115.0" y2="541.0" stroke="#3c3c4a" stroke-width="1.1" />
<circle cx="1115.0" cy="541.0" r="4.0" fill="url(#pinkball)" stroke="#8e2e7c" stroke-width="1.5"/>
<line x1="1127.5" y1="525.0" x2="1127.5" y2="541.0" stroke="#3c3c4a" stroke-width="1.1" />
<circle cx="1127.5" cy="541.0" r="4.0" fill="url(#pinkball)" stroke="#8e2e7c" stroke-width="1.5"/>
<line x1="1140.0" y1="525.0" x2="1140.0" y2="541.0" stroke="#3c3c4a" stroke-width="1.1" />
<circle cx="1140.0" cy="541.0" r="4.0" fill="url(#pinkball)" stroke="#8e2e7c" stroke-width="1.5"/>
<path d="M1077.5 532.0 L1077.5 413.0 A36.5 36.5 0 0 1 1150.5 413.0 L1150.5 532.0 Z" fill="#e9edf1" stroke="#7c828c" stroke-width="1"/>
<path d="M1081.8 529.5 L1081.8 412.9 A32.2 32.2 0 0 1 1146.2 412.9 L1146.2 529.5 Z" fill="url(#vsvteal)" stroke="#2a6d7c" stroke-width="0.9"/>
<line x1="1086.0" y1="527.0" x2="1076.5" y2="527.0" stroke="#3c3c4a" stroke-width="1.0" opacity="0.75"/>
<line x1="1086.0" y1="514.5" x2="1076.5" y2="514.5" stroke="#3c3c4a" stroke-width="1.0" opacity="0.75"/>
<line x1="1086.0" y1="502.0" x2="1076.5" y2="502.0" stroke="#3c3c4a" stroke-width="1.0" opacity="0.75"/>
<line x1="1086.0" y1="489.5" x2="1076.5" y2="489.5" stroke="#3c3c4a" stroke-width="1.0" opacity="0.75"/>
<line x1="1086.0" y1="477.0" x2="1076.5" y2="477.0" stroke="#3c3c4a" stroke-width="1.0" opacity="0.75"/>
<line x1="1086.0" y1="464.5" x2="1076.5" y2="464.5" stroke="#3c3c4a" stroke-width="1.0" opacity="0.75"/>
<line x1="1086.0" y1="452.0" x2="1076.5" y2="452.0" stroke="#3c3c4a" stroke-width="1.0" opacity="0.75"/>
<line x1="1086.0" y1="439.5" x2="1076.5" y2="439.5" stroke="#3c3c4a" stroke-width="1.0" opacity="0.75"/>
<line x1="1086.0" y1="427.0" x2="1076.5" y2="427.0" stroke="#3c3c4a" stroke-width="1.0" opacity="0.75"/>
<line x1="1086.0" y1="414.5" x2="1076.5" y2="414.5" stroke="#3c3c4a" stroke-width="1.0" opacity="0.75"/>
<line x1="1087.4" y1="404.3" x2="1078.3" y2="401.4" stroke="#3c3c4a" stroke-width="1.0" opacity="0.75"/>
<line x1="1091.3" y1="396.5" x2="1083.7" y2="391.0" stroke="#3c3c4a" stroke-width="1.0" opacity="0.75"/>
<line x1="1097.5" y1="390.3" x2="1092.0" y2="382.7" stroke="#3c3c4a" stroke-width="1.0" opacity="0.75"/>
<line x1="1105.3" y1="386.4" x2="1102.4" y2="377.3" stroke="#3c3c4a" stroke-width="1.0" opacity="0.75"/>
<line x1="1114.0" y1="385.0" x2="1114.0" y2="375.5" stroke="#3c3c4a" stroke-width="1.0" opacity="0.75"/>
<line x1="1122.7" y1="386.4" x2="1125.6" y2="377.3" stroke="#3c3c4a" stroke-width="1.0" opacity="0.75"/>
<line x1="1130.5" y1="390.3" x2="1136.0" y2="382.7" stroke="#3c3c4a" stroke-width="1.0" opacity="0.75"/>
<line x1="1136.7" y1="396.5" x2="1144.3" y2="391.0" stroke="#3c3c4a" stroke-width="1.0" opacity="0.75"/>
<line x1="1140.6" y1="404.3" x2="1149.7" y2="401.4" stroke="#3c3c4a" stroke-width="1.0" opacity="0.75"/>
<line x1="1142.0" y1="411.5" x2="1151.5" y2="411.5" stroke="#3c3c4a" stroke-width="1.0" opacity="0.75"/>
<line x1="1142.0" y1="424.0" x2="1151.5" y2="424.0" stroke="#3c3c4a" stroke-width="1.0" opacity="0.75"/>
<line x1="1142.0" y1="436.5" x2="1151.5" y2="436.5" stroke="#3c3c4a" stroke-width="1.0" opacity="0.75"/>
<line x1="1142.0" y1="449.0" x2="1151.5" y2="449.0" stroke="#3c3c4a" stroke-width="1.0" opacity="0.75"/>
<line x1="1142.0" y1="461.5" x2="1151.5" y2="461.5" stroke="#3c3c4a" stroke-width="1.0" opacity="0.75"/>
<line x1="1142.0" y1="474.0" x2="1151.5" y2="474.0" stroke="#3c3c4a" stroke-width="1.0" opacity="0.75"/>
<line x1="1142.0" y1="486.5" x2="1151.5" y2="486.5" stroke="#3c3c4a" stroke-width="1.0" opacity="0.75"/>
<line x1="1142.0" y1="499.0" x2="1151.5" y2="499.0" stroke="#3c3c4a" stroke-width="1.0" opacity="0.75"/>
<line x1="1142.0" y1="511.5" x2="1151.5" y2="511.5" stroke="#3c3c4a" stroke-width="1.0" opacity="0.75"/>
<line x1="1142.0" y1="524.0" x2="1151.5" y2="524.0" stroke="#3c3c4a" stroke-width="1.0" opacity="0.75"/>
<line x1="1090.0" y1="523.5" x2="1090.0" y2="533.0" stroke="#3c3c4a" stroke-width="1.0" opacity="0.75"/>
<line x1="1102.5" y1="523.5" x2="1102.5" y2="533.0" stroke="#3c3c4a" stroke-width="1.0" opacity="0.75"/>
<line x1="1115.0" y1="523.5" x2="1115.0" y2="533.0" stroke="#3c3c4a" stroke-width="1.0" opacity="0.75"/>
<line x1="1127.5" y1="523.5" x2="1127.5" y2="533.0" stroke="#3c3c4a" stroke-width="1.0" opacity="0.75"/>
<line x1="1140.0" y1="523.5" x2="1140.0" y2="533.0" stroke="#3c3c4a" stroke-width="1.0" opacity="0.75"/>
<path d="M1086.8 527.5 L1086.8 413.2 A27.2 27.2 0 0 1 1141.2 413.2 L1141.2 527.5 Z" fill="url(#vsvin)" stroke="#6f93ad" stroke-width="0.8"/>
</g>
<path d="M1113.8 396.8 C1111.9 397.6 1106.0 398.6 1102.6 401.5 C1099.2 404.4 1095.3 409.6 1093.5 414.0 C1091.7 418.4 1091.4 424.0 1092.0 428.0 C1092.6 432.0 1094.7 435.8 1097.0 438.0 C1099.3 440.2 1102.5 440.8 1106.0 441.0 C1109.5 441.2 1115.1 440.8 1118.0 439.0 C1120.9 437.2 1123.5 433.0 1123.5 430.0 C1123.5 427.0 1120.6 422.7 1118.0 421.0 C1115.4 419.3 1110.8 419.0 1108.0 420.0 C1105.2 421.0 1102.2 424.0 1101.0 427.0 C1099.8 430.0 1100.3 434.5 1100.5 438.0 C1100.7 441.5 1100.8 444.0 1102.0 448.0 C1103.2 452.0 1105.0 459.1 1108.0 462.0 C1111.0 464.9 1116.3 466.0 1120.0 465.5 C1123.7 465.0 1128.7 461.6 1130.0 459.0 C1131.3 456.4 1130.2 451.9 1128.0 450.0 C1125.8 448.1 1120.7 447.2 1117.0 447.5 C1113.3 447.8 1108.4 449.4 1106.0 452.0 C1103.6 454.6 1103.0 459.0 1102.5 463.0 C1102.0 467.0 1101.9 471.5 1103.0 476.0 C1104.1 480.5 1105.8 486.9 1109.0 490.0 C1112.2 493.1 1117.8 494.9 1122.0 494.7 C1126.2 494.5 1131.8 491.8 1134.0 489.0 C1136.2 486.2 1136.7 480.8 1135.0 478.0 C1133.3 475.2 1128.2 472.8 1124.0 472.5 C1119.8 472.2 1113.5 473.6 1110.0 476.0 C1106.5 478.4 1104.2 483.3 1103.0 487.0 C1101.8 490.7 1102.5 494.7 1103.0 498.0 C1103.5 501.3 1104.4 504.1 1106.0 507.0 C1107.6 509.9 1110.0 513.7 1112.4 515.6 C1114.9 517.5 1119.3 517.9 1120.7 518.4" fill="none" stroke="#3d7a3c" stroke-width="3.9" stroke-linecap="round"/>
<path d="M1113.8 396.8 C1111.9 397.6 1106.0 398.6 1102.6 401.5 C1099.2 404.4 1095.3 409.6 1093.5 414.0 C1091.7 418.4 1091.4 424.0 1092.0 428.0 C1092.6 432.0 1094.7 435.8 1097.0 438.0 C1099.3 440.2 1102.5 440.8 1106.0 441.0 C1109.5 441.2 1115.1 440.8 1118.0 439.0 C1120.9 437.2 1123.5 433.0 1123.5 430.0 C1123.5 427.0 1120.6 422.7 1118.0 421.0 C1115.4 419.3 1110.8 419.0 1108.0 420.0 C1105.2 421.0 1102.2 424.0 1101.0 427.0 C1099.8 430.0 1100.3 434.5 1100.5 438.0 C1100.7 441.5 1100.8 444.0 1102.0 448.0 C1103.2 452.0 1105.0 459.1 1108.0 462.0 C1111.0 464.9 1116.3 466.0 1120.0 465.5 C1123.7 465.0 1128.7 461.6 1130.0 459.0 C1131.3 456.4 1130.2 451.9 1128.0 450.0 C1125.8 448.1 1120.7 447.2 1117.0 447.5 C1113.3 447.8 1108.4 449.4 1106.0 452.0 C1103.6 454.6 1103.0 459.0 1102.5 463.0 C1102.0 467.0 1101.9 471.5 1103.0 476.0 C1104.1 480.5 1105.8 486.9 1109.0 490.0 C1112.2 493.1 1117.8 494.9 1122.0 494.7 C1126.2 494.5 1131.8 491.8 1134.0 489.0 C1136.2 486.2 1136.7 480.8 1135.0 478.0 C1133.3 475.2 1128.2 472.8 1124.0 472.5 C1119.8 472.2 1113.5 473.6 1110.0 476.0 C1106.5 478.4 1104.2 483.3 1103.0 487.0 C1101.8 490.7 1102.5 494.7 1103.0 498.0 C1103.5 501.3 1104.4 504.1 1106.0 507.0 C1107.6 509.9 1110.0 513.7 1112.4 515.6 C1114.9 517.5 1119.3 517.9 1120.7 518.4" fill="none" stroke="#a8d694" stroke-width="2.3" stroke-linecap="round"/>
<circle cx="1114.3" cy="396.8" r="4.2" fill="#f8cc78" stroke="#9a6a28" stroke-width="1"/>
</g>
<g id="mv">
<clipPath id="mvclip"><path d="M1257.1 377.9 C1262.4 375.9 1271.9 371.7 1279.6 371.2 C1287.4 370.8 1296.9 372.1 1303.5 375.2 C1310.1 378.3 1315.0 383.0 1319.4 389.8 C1323.8 396.7 1327.4 407.5 1330.0 416.3 C1332.7 425.2 1334.7 434.5 1335.4 442.9 C1336.0 451.3 1335.8 458.8 1334.0 466.8 C1332.3 474.7 1329.4 483.1 1324.7 490.7 C1320.1 498.2 1312.8 506.4 1306.2 511.9 C1299.5 517.4 1292.0 521.2 1284.9 523.8 C1277.8 526.5 1271.2 528.0 1263.7 527.8 C1256.2 527.6 1246.2 525.6 1239.8 522.5 C1233.4 519.4 1228.5 514.1 1225.2 509.2 C1221.9 504.4 1219.7 499.5 1219.9 493.3 C1220.1 487.1 1223.2 478.3 1226.5 472.1 C1229.9 465.9 1235.8 461.5 1239.8 456.2 C1243.8 450.8 1248.4 445.1 1250.4 440.2 C1252.4 435.4 1252.6 431.8 1251.8 427.0 C1250.9 422.1 1246.7 416.3 1245.1 411.0 C1243.6 405.7 1242.0 399.8 1242.5 395.1 C1242.9 390.5 1245.3 386.0 1247.8 383.2 C1250.2 380.3 1251.8 379.9 1257.1 377.9Z"/></clipPath>
<path d="M1257.1 377.9 C1262.4 375.9 1271.9 371.7 1279.6 371.2 C1287.4 370.8 1296.9 372.1 1303.5 375.2 C1310.1 378.3 1315.0 383.0 1319.4 389.8 C1323.8 396.7 1327.4 407.5 1330.0 416.3 C1332.7 425.2 1334.7 434.5 1335.4 442.9 C1336.0 451.3 1335.8 458.8 1334.0 466.8 C1332.3 474.7 1329.4 483.1 1324.7 490.7 C1320.1 498.2 1312.8 506.4 1306.2 511.9 C1299.5 517.4 1292.0 521.2 1284.9 523.8 C1277.8 526.5 1271.2 528.0 1263.7 527.8 C1256.2 527.6 1246.2 525.6 1239.8 522.5 C1233.4 519.4 1228.5 514.1 1225.2 509.2 C1221.9 504.4 1219.7 499.5 1219.9 493.3 C1220.1 487.1 1223.2 478.3 1226.5 472.1 C1229.9 465.9 1235.8 461.5 1239.8 456.2 C1243.8 450.8 1248.4 445.1 1250.4 440.2 C1252.4 435.4 1252.6 431.8 1251.8 427.0 C1250.9 422.1 1246.7 416.3 1245.1 411.0 C1243.6 405.7 1242.0 399.8 1242.5 395.1 C1242.9 390.5 1245.3 386.0 1247.8 383.2 C1250.2 380.3 1251.8 379.9 1257.1 377.9Z" fill="url(#mv)" stroke="none"/>
<path d="M1257.1 377.9 C1262.4 375.9 1271.9 371.7 1279.6 371.2 C1287.4 370.8 1296.9 372.1 1303.5 375.2 C1310.1 378.3 1315.0 383.0 1319.4 389.8 C1323.8 396.7 1327.4 407.5 1330.0 416.3 C1332.7 425.2 1334.7 434.5 1335.4 442.9 C1336.0 451.3 1335.8 458.8 1334.0 466.8 C1332.3 474.7 1329.4 483.1 1324.7 490.7 C1320.1 498.2 1312.8 506.4 1306.2 511.9 C1299.5 517.4 1292.0 521.2 1284.9 523.8 C1277.8 526.5 1271.2 528.0 1263.7 527.8 C1256.2 527.6 1246.2 525.6 1239.8 522.5 C1233.4 519.4 1228.5 514.1 1225.2 509.2 C1221.9 504.4 1219.7 499.5 1219.9 493.3 C1220.1 487.1 1223.2 478.3 1226.5 472.1 C1229.9 465.9 1235.8 461.5 1239.8 456.2 C1243.8 450.8 1248.4 445.1 1250.4 440.2 C1252.4 435.4 1252.6 431.8 1251.8 427.0 C1250.9 422.1 1246.7 416.3 1245.1 411.0 C1243.6 405.7 1242.0 399.8 1242.5 395.1 C1242.9 390.5 1245.3 386.0 1247.8 383.2 C1250.2 380.3 1251.8 379.9 1257.1 377.9Z" fill="none" stroke="#f6eaf5" stroke-width="14" clip-path="url(#mvclip)"/>
<path d="M1257.1 377.9 C1262.4 375.9 1271.9 371.7 1279.6 371.2 C1287.4 370.8 1296.9 372.1 1303.5 375.2 C1310.1 378.3 1315.0 383.0 1319.4 389.8 C1323.8 396.7 1327.4 407.5 1330.0 416.3 C1332.7 425.2 1334.7 434.5 1335.4 442.9 C1336.0 451.3 1335.8 458.8 1334.0 466.8 C1332.3 474.7 1329.4 483.1 1324.7 490.7 C1320.1 498.2 1312.8 506.4 1306.2 511.9 C1299.5 517.4 1292.0 521.2 1284.9 523.8 C1277.8 526.5 1271.2 528.0 1263.7 527.8 C1256.2 527.6 1246.2 525.6 1239.8 522.5 C1233.4 519.4 1228.5 514.1 1225.2 509.2 C1221.9 504.4 1219.7 499.5 1219.9 493.3 C1220.1 487.1 1223.2 478.3 1226.5 472.1 C1229.9 465.9 1235.8 461.5 1239.8 456.2 C1243.8 450.8 1248.4 445.1 1250.4 440.2 C1252.4 435.4 1252.6 431.8 1251.8 427.0 C1250.9 422.1 1246.7 416.3 1245.1 411.0 C1243.6 405.7 1242.0 399.8 1242.5 395.1 C1242.9 390.5 1245.3 386.0 1247.8 383.2 C1250.2 380.3 1251.8 379.9 1257.1 377.9Z" fill="none" stroke="#e9c4e0" stroke-width="1.2" transform="translate(1283.5 450) scale(0.87 0.9) translate(-1283.5 -450)"/>
<path d="M1257.1 377.9 C1262.4 375.9 1271.9 371.7 1279.6 371.2 C1287.4 370.8 1296.9 372.1 1303.5 375.2 C1310.1 378.3 1315.0 383.0 1319.4 389.8 C1323.8 396.7 1327.4 407.5 1330.0 416.3 C1332.7 425.2 1334.7 434.5 1335.4 442.9 C1336.0 451.3 1335.8 458.8 1334.0 466.8 C1332.3 474.7 1329.4 483.1 1324.7 490.7 C1320.1 498.2 1312.8 506.4 1306.2 511.9 C1299.5 517.4 1292.0 521.2 1284.9 523.8 C1277.8 526.5 1271.2 528.0 1263.7 527.8 C1256.2 527.6 1246.2 525.6 1239.8 522.5 C1233.4 519.4 1228.5 514.1 1225.2 509.2 C1221.9 504.4 1219.7 499.5 1219.9 493.3 C1220.1 487.1 1223.2 478.3 1226.5 472.1 C1229.9 465.9 1235.8 461.5 1239.8 456.2 C1243.8 450.8 1248.4 445.1 1250.4 440.2 C1252.4 435.4 1252.6 431.8 1251.8 427.0 C1250.9 422.1 1246.7 416.3 1245.1 411.0 C1243.6 405.7 1242.0 399.8 1242.5 395.1 C1242.9 390.5 1245.3 386.0 1247.8 383.2 C1250.2 380.3 1251.8 379.9 1257.1 377.9Z" fill="none" stroke="#86307a" stroke-width="3.4" stroke-dasharray="3 1"/>
<path d="M1257.1 399.1 C1258.6 397.5 1261.7 392.0 1266.3 389.8 C1271.0 387.6 1279.6 385.8 1284.9 385.8 C1290.2 385.8 1295.5 387.6 1298.2 389.8 C1300.8 392.0 1302.2 396.9 1300.8 399.1 C1299.5 401.3 1294.4 402.0 1290.2 403.1 C1286.0 404.2 1279.0 404.2 1275.6 405.7 C1272.3 407.3 1269.7 410.4 1270.3 412.4 C1271.0 414.4 1275.0 417.7 1279.6 417.7 C1284.3 417.7 1293.3 412.8 1298.2 412.4 C1303.1 411.9 1307.0 412.8 1308.8 415.0 C1310.6 417.2 1311.0 423.4 1308.8 425.6 C1306.6 427.8 1301.3 428.1 1295.5 428.3 C1289.8 428.5 1279.4 426.5 1274.3 427.0 C1269.2 427.4 1266.3 429.0 1265.0 430.9 C1263.7 432.9 1263.5 437.6 1266.3 438.9 C1269.2 440.2 1276.1 439.6 1282.3 438.9 C1288.5 438.2 1298.4 434.7 1303.5 434.9 C1308.6 435.1 1311.7 437.8 1312.8 440.2 C1313.9 442.7 1313.5 448.0 1310.1 449.5 C1306.8 451.1 1299.3 450.0 1292.9 449.5 C1286.5 449.1 1276.5 446.4 1271.7 446.9 C1266.8 447.3 1264.8 449.5 1263.7 452.2 C1262.6 454.8 1262.4 461.0 1265.0 462.8 C1267.7 464.6 1273.6 463.2 1279.6 462.8 C1285.6 462.3 1295.5 459.7 1300.8 460.1 C1306.2 460.6 1310.6 463.0 1311.5 465.4 C1312.3 467.9 1310.1 473.6 1306.2 474.7 C1302.2 475.8 1294.2 473.0 1287.6 472.1 C1280.9 471.2 1271.9 469.0 1266.3 469.4 C1260.8 469.9 1256.0 472.5 1254.4 474.7 C1252.9 476.9 1254.2 481.6 1257.1 482.7 C1259.9 483.8 1267.5 480.5 1271.7 481.4 C1275.9 482.3 1281.4 485.6 1282.3 488.0 C1283.2 490.4 1280.9 495.5 1277.0 496.0 C1273.0 496.4 1264.1 491.8 1258.4 490.7 C1252.6 489.6 1246.0 488.7 1242.5 489.3 C1238.9 490.0 1236.3 492.9 1237.2 494.6 C1238.0 496.4 1243.3 498.6 1247.8 499.9 C1252.2 501.3 1259.3 501.1 1263.7 502.6 C1268.1 504.1 1273.4 507.0 1274.3 509.2 C1275.2 511.4 1271.0 514.8 1269.0 515.9 C1267.0 517.0 1263.5 515.9 1262.4 515.9" fill="none" stroke="#6a7066" stroke-width="5.0" stroke-linecap="round"/>
<path d="M1257.1 399.1 C1258.6 397.5 1261.7 392.0 1266.3 389.8 C1271.0 387.6 1279.6 385.8 1284.9 385.8 C1290.2 385.8 1295.5 387.6 1298.2 389.8 C1300.8 392.0 1302.2 396.9 1300.8 399.1 C1299.5 401.3 1294.4 402.0 1290.2 403.1 C1286.0 404.2 1279.0 404.2 1275.6 405.7 C1272.3 407.3 1269.7 410.4 1270.3 412.4 C1271.0 414.4 1275.0 417.7 1279.6 417.7 C1284.3 417.7 1293.3 412.8 1298.2 412.4 C1303.1 411.9 1307.0 412.8 1308.8 415.0 C1310.6 417.2 1311.0 423.4 1308.8 425.6 C1306.6 427.8 1301.3 428.1 1295.5 428.3 C1289.8 428.5 1279.4 426.5 1274.3 427.0 C1269.2 427.4 1266.3 429.0 1265.0 430.9 C1263.7 432.9 1263.5 437.6 1266.3 438.9 C1269.2 440.2 1276.1 439.6 1282.3 438.9 C1288.5 438.2 1298.4 434.7 1303.5 434.9 C1308.6 435.1 1311.7 437.8 1312.8 440.2 C1313.9 442.7 1313.5 448.0 1310.1 449.5 C1306.8 451.1 1299.3 450.0 1292.9 449.5 C1286.5 449.1 1276.5 446.4 1271.7 446.9 C1266.8 447.3 1264.8 449.5 1263.7 452.2 C1262.6 454.8 1262.4 461.0 1265.0 462.8 C1267.7 464.6 1273.6 463.2 1279.6 462.8 C1285.6 462.3 1295.5 459.7 1300.8 460.1 C1306.2 460.6 1310.6 463.0 1311.5 465.4 C1312.3 467.9 1310.1 473.6 1306.2 474.7 C1302.2 475.8 1294.2 473.0 1287.6 472.1 C1280.9 471.2 1271.9 469.0 1266.3 469.4 C1260.8 469.9 1256.0 472.5 1254.4 474.7 C1252.9 476.9 1254.2 481.6 1257.1 482.7 C1259.9 483.8 1267.5 480.5 1271.7 481.4 C1275.9 482.3 1281.4 485.6 1282.3 488.0 C1283.2 490.4 1280.9 495.5 1277.0 496.0 C1273.0 496.4 1264.1 491.8 1258.4 490.7 C1252.6 489.6 1246.0 488.7 1242.5 489.3 C1238.9 490.0 1236.3 492.9 1237.2 494.6 C1238.0 496.4 1243.3 498.6 1247.8 499.9 C1252.2 501.3 1259.3 501.1 1263.7 502.6 C1268.1 504.1 1273.4 507.0 1274.3 509.2 C1275.2 511.4 1271.0 514.8 1269.0 515.9 C1267.0 517.0 1263.5 515.9 1262.4 515.9" fill="none" stroke="#cfd6c8" stroke-width="2.8" stroke-linecap="round"/>
</g>
</svg>
</body></html>
